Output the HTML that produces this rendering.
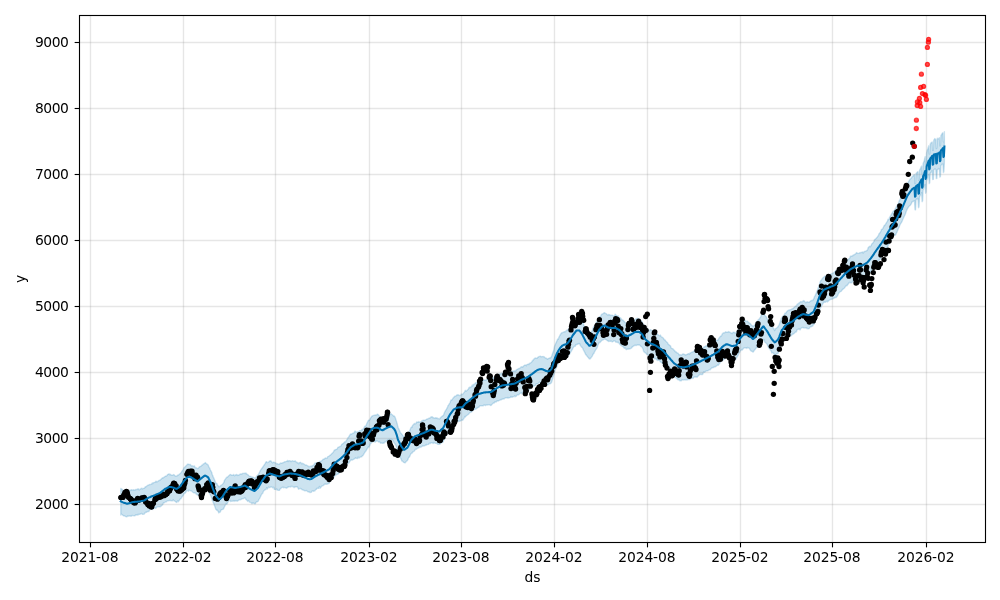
<!DOCTYPE html>
<html lang="en">
<head>
<meta charset="utf-8">
<title>Prophet forecast</title>
<style>
html,body{margin:0;padding:0;background:#fff;}
body{width:1000px;height:600px;overflow:hidden;}
svg{display:block;will-change:transform;}
text{font-family:"DejaVu Sans","Liberation Sans",sans-serif;font-size:13.89px;fill:#000;}
</style>
</head>
<body>
<svg width="1000" height="600" viewBox="0 0 1000 600">
<rect width="1000" height="600" fill="#fff"/>
<clipPath id="ax"><rect x="79.5" y="15.5" width="906.0" height="527.0"/></clipPath>
<g clip-path="url(#ax)">
<path d="M120.8 488.5L121.3 488.7L122.9 489.9L123.4 490.4L123.9 490.4L124.4 490.7L124.9 490.4L126.4 490.4L126.9 491.2L127.4 491.2L127.9 490.6L128.5 490.5L130.0 490.2L130.5 490.5L131.0 489.9L131.5 489.6L132.0 490.2L133.5 489.7L134.0 490.2L134.6 490.0L135.1 490.1L135.6 489.4L137.1 489.5L137.6 488.9L138.1 488.8L138.6 489.1L139.1 489.9L140.6 488.9L141.2 488.4L141.7 488.3L142.2 488.9L142.7 488.5L144.2 488.2L144.7 487.7L145.2 486.7L145.7 487.0L146.2 486.5L147.8 485.2L148.3 485.4L148.8 485.0L149.3 484.6L149.8 484.5L151.3 484.4L151.8 483.6L152.3 482.9L152.8 483.7L153.4 482.7L154.9 482.3L155.4 482.3L155.9 481.1L156.4 481.3L156.9 482.0L158.4 480.9L158.9 480.5L159.4 480.5L160.0 480.0L160.5 479.8L162.0 478.3L162.5 477.7L163.0 478.1L163.5 477.5L164.0 477.3L165.5 476.1L166.1 476.3L166.6 475.9L167.1 475.3L167.6 474.6L169.1 473.8L169.6 474.7L170.1 474.6L170.6 474.3L171.1 475.3L172.7 475.1L173.2 474.9L173.7 474.5L174.2 474.9L174.7 475.6L176.2 476.4L176.7 476.2L177.2 475.2L177.7 475.5L178.2 475.2L179.8 473.8L180.3 473.5L180.8 472.9L181.3 472.5L181.8 471.4L183.3 469.3L183.8 468.0L184.3 467.5L184.9 467.2L185.4 466.4L186.9 464.9L187.4 464.2L187.9 464.3L188.4 464.1L188.9 464.5L190.4 464.4L190.9 465.5L191.5 466.0L192.0 465.6L192.5 465.9L194.0 466.3L194.5 465.9L195.0 467.4L195.5 467.8L196.0 467.7L197.6 468.5L198.1 468.4L198.6 467.9L199.1 467.1L199.6 466.8L201.1 466.1L201.6 465.5L202.1 465.0L202.6 465.0L203.1 464.2L204.7 463.3L205.2 462.5L205.7 463.0L206.2 463.4L206.7 463.9L208.2 465.0L208.7 466.7L209.2 467.4L209.7 467.9L210.3 469.7L211.8 472.6L212.3 474.8L212.8 475.6L213.3 477.3L213.8 477.9L215.3 481.8L215.8 483.5L216.4 483.2L216.9 483.6L217.4 484.8L218.9 486.8L219.4 486.7L219.9 486.5L220.4 485.5L220.9 485.7L222.5 484.2L223.0 483.6L223.5 482.9L224.0 482.1L224.5 480.3L226.0 478.2L226.5 477.4L227.0 477.2L227.5 477.1L228.0 476.5L229.6 475.0L230.1 474.4L230.6 474.6L231.1 474.8L231.6 475.3L233.1 475.3L233.6 474.4L234.1 475.4L234.6 475.7L235.2 475.1L236.7 474.4L237.2 475.4L237.7 475.0L238.2 475.1L238.7 475.3L240.2 474.0L240.7 474.0L241.2 474.0L241.8 474.1L242.3 473.5L243.8 473.4L244.3 473.2L244.8 473.5L245.3 473.5L245.8 472.9L247.3 474.5L247.9 474.7L248.4 475.2L248.9 475.7L249.4 476.1L250.9 476.5L251.4 477.0L251.9 477.2L252.4 477.3L252.9 477.0L254.5 477.9L255.0 477.7L255.5 477.8L256.0 477.6L256.5 476.2L258.0 474.8L258.5 474.3L259.0 473.2L259.5 472.2L260.0 471.2L261.6 468.6L262.1 468.2L262.6 467.0L263.1 467.1L263.6 465.8L265.1 463.6L265.6 462.7L266.1 461.7L266.7 461.8L267.2 462.7L268.7 462.2L269.2 461.1L269.7 461.3L270.2 460.9L270.7 460.8L272.2 462.5L272.8 462.9L273.3 462.1L273.8 462.2L274.3 462.5L275.8 462.9L276.3 463.5L276.8 463.9L277.3 463.6L277.8 464.0L279.4 464.4L279.9 463.4L280.4 463.2L280.9 463.0L281.4 463.3L282.9 462.7L283.4 462.6L283.9 462.3L284.4 461.8L284.9 461.9L286.5 461.3L287.0 461.0L287.5 460.4L288.0 461.5L288.5 460.8L290.0 460.8L290.5 461.0L291.0 461.6L291.5 461.2L292.1 460.7L293.6 461.1L294.1 461.1L294.6 461.2L295.1 460.7L295.6 461.4L297.1 462.7L297.6 462.5L298.2 463.2L298.7 463.8L299.2 462.7L300.7 462.3L301.2 463.0L301.7 463.8L302.2 463.8L302.7 463.2L304.3 464.3L304.8 464.7L305.3 465.0L305.8 465.1L306.3 465.0L307.8 465.9L308.3 466.3L308.8 466.8L309.3 466.4L309.8 466.7L311.4 465.9L311.9 466.4L312.4 465.8L312.9 465.4L313.4 465.4L314.9 463.2L315.4 462.9L315.9 463.4L316.4 462.7L317.0 462.8L318.5 463.1L319.0 461.9L319.5 461.5L320.0 461.3L320.5 461.5L322.0 460.5L322.5 460.0L323.1 459.2L323.6 459.3L324.1 459.1L325.6 457.9L326.1 458.4L326.6 458.3L327.1 458.4L327.6 456.8L329.1 456.0L329.7 455.5L330.2 455.1L330.7 454.8L331.2 454.3L332.7 452.8L333.2 452.2L333.7 451.4L334.2 450.2L334.7 450.0L336.3 449.3L336.8 449.1L337.3 448.7L337.8 447.4L338.3 447.3L339.8 446.5L340.3 446.4L340.8 446.2L341.3 445.2L341.8 444.3L343.4 443.3L343.9 442.8L344.4 442.3L344.9 441.8L345.4 441.9L346.9 439.7L347.4 439.0L347.9 437.7L348.5 437.5L349.0 436.3L350.5 434.0L351.0 434.4L351.5 434.3L352.0 433.6L352.5 433.4L354.0 432.8L354.6 431.7L355.1 431.0L355.6 431.8L356.1 431.9L357.6 432.0L358.1 431.5L358.6 431.9L359.1 431.7L359.6 430.6L361.2 430.7L361.7 429.8L362.2 429.3L362.7 429.7L363.2 429.2L364.7 426.2L365.2 426.2L365.7 425.8L366.2 425.2L366.7 423.7L368.3 420.6L368.8 420.1L369.3 420.3L369.8 419.6L370.3 418.6L371.8 416.2L372.3 416.1L372.8 415.7L373.4 415.4L373.9 415.4L375.4 415.0L375.9 414.9L376.4 415.0L376.9 414.6L377.4 414.1L378.9 415.3L379.4 416.1L380.0 417.0L380.5 416.8L381.0 417.9L382.5 418.3L383.0 417.0L383.5 416.7L384.0 416.9L384.5 417.3L386.1 416.0L386.6 415.6L387.1 414.7L387.6 413.8L388.1 414.5L389.6 414.6L390.1 414.5L390.6 413.9L391.1 413.8L391.6 414.3L393.2 415.5L393.7 416.3L394.2 415.9L394.7 416.5L395.2 417.5L396.7 422.1L397.2 423.8L397.7 426.0L398.2 427.8L398.8 428.9L400.3 432.3L400.8 433.3L401.3 433.4L401.8 434.3L402.3 434.8L403.8 436.8L404.3 437.8L404.9 437.2L405.4 436.3L405.9 435.8L407.4 434.9L407.9 433.6L408.4 432.9L408.9 432.6L409.4 431.4L410.9 427.7L411.5 427.0L412.0 427.3L412.5 425.6L413.0 425.1L414.5 423.5L415.0 423.7L415.5 423.7L416.0 423.5L416.5 422.0L418.1 422.2L418.6 421.6L419.1 422.2L419.6 422.0L420.1 422.4L421.6 421.3L422.1 420.6L422.6 421.0L423.1 420.1L423.7 420.1L425.2 420.1L425.7 419.8L426.2 419.5L426.7 419.1L427.2 419.1L428.7 418.4L429.2 418.0L429.7 418.1L430.3 417.9L430.8 417.0L432.3 416.8L432.8 417.8L433.3 417.5L433.8 417.9L434.3 418.1L435.8 417.8L436.4 418.2L436.9 417.7L437.4 418.6L437.9 418.4L439.4 418.9L439.9 418.6L440.4 417.7L440.9 417.4L441.4 416.7L443.0 415.6L443.5 415.2L444.0 413.8L444.5 412.6L445.0 411.4L446.5 409.1L447.0 408.0L447.5 407.4L448.0 405.6L448.5 405.2L450.1 402.5L450.6 401.0L451.1 399.9L451.6 400.3L452.1 399.6L453.6 397.4L454.1 397.1L454.6 396.3L455.2 396.4L455.7 396.1L457.2 394.8L457.7 395.0L458.2 394.7L458.7 395.2L459.2 395.5L460.7 395.4L461.2 394.0L461.8 394.6L462.3 394.5L462.8 394.2L464.3 392.2L464.8 391.4L465.3 390.3L465.8 391.0L466.3 391.0L467.9 389.6L468.4 389.1L468.9 387.8L469.4 387.3L469.9 387.7L471.4 386.7L471.9 385.8L472.4 384.9L472.9 385.9L473.4 384.5L475.0 383.7L475.5 382.7L476.0 383.0L476.5 382.5L477.0 382.6L478.5 381.8L479.0 380.6L479.5 380.6L480.0 381.1L480.6 381.4L482.1 381.3L482.6 380.5L483.1 380.1L483.6 380.0L484.1 379.9L485.6 380.2L486.1 379.8L486.7 379.5L487.2 378.9L487.7 378.6L489.2 379.4L489.7 379.7L490.2 379.5L490.7 379.7L491.2 379.5L492.7 378.3L493.3 378.2L493.8 377.3L494.3 377.1L494.8 376.7L496.3 375.9L496.8 375.8L497.3 375.6L497.8 375.1L498.3 374.9L499.9 373.8L500.4 373.7L500.9 374.0L501.4 373.3L501.9 373.5L503.4 373.0L503.9 372.9L504.4 373.4L504.9 372.5L505.5 372.2L507.0 372.2L507.5 372.2L508.0 372.2L508.5 372.4L509.0 372.0L510.5 371.8L511.0 371.6L511.5 371.9L512.1 371.3L512.6 371.1L514.1 371.0L514.6 371.0L515.1 370.7L515.6 371.1L516.1 370.1L517.6 369.1L518.2 368.8L518.7 368.5L519.2 368.6L519.7 368.2L521.2 366.9L521.7 366.7L522.2 366.8L522.7 367.2L523.2 366.2L524.8 365.1L525.3 365.0L525.8 365.3L526.3 365.7L526.8 364.6L528.3 364.1L528.8 364.6L529.3 363.3L529.8 363.5L530.3 363.2L531.9 361.7L532.4 360.5L532.9 360.7L533.4 360.0L533.9 359.0L535.4 357.9L535.9 358.3L536.4 358.2L537.0 358.2L537.5 357.6L539.0 356.5L539.5 356.4L540.0 356.4L540.5 356.1L541.0 356.7L542.5 356.6L543.0 356.5L543.6 356.7L544.1 356.8L544.6 357.4L546.1 358.4L546.6 358.3L547.1 359.0L547.6 359.3L548.1 358.5L549.7 358.1L550.2 357.6L550.7 357.9L551.2 357.0L551.7 356.1L553.2 351.8L553.7 350.6L554.2 348.0L554.7 345.8L555.2 344.7L556.8 341.1L557.3 339.8L557.8 338.9L558.3 339.3L558.8 337.5L560.3 334.7L560.8 334.0L561.3 333.1L561.8 332.8L562.4 332.7L563.9 331.9L564.4 331.6L564.9 332.0L565.4 331.7L565.9 331.0L567.4 329.8L567.9 330.0L568.5 329.4L569.0 328.5L569.5 327.4L571.0 325.4L571.5 324.2L572.0 324.3L572.5 323.3L573.0 322.3L574.6 319.9L575.1 319.3L575.6 319.7L576.1 318.8L576.6 317.8L578.1 318.2L578.6 318.4L579.1 317.4L579.6 317.6L580.1 318.5L581.7 320.9L582.2 321.2L582.7 322.6L583.2 323.3L583.7 325.1L585.2 328.2L585.7 328.8L586.2 329.8L586.7 329.9L587.3 330.6L588.8 332.9L589.3 333.1L589.8 333.1L590.3 332.3L590.8 332.5L592.3 330.8L592.8 328.9L593.3 327.4L593.9 326.5L594.4 326.4L595.9 323.3L596.4 321.8L596.9 321.5L597.4 320.9L597.9 319.4L599.4 316.6L600.0 316.6L600.5 316.5L601.0 315.7L601.5 314.3L603.0 313.7L603.5 313.3L604.0 312.9L604.5 312.6L605.0 313.2L606.6 313.9L607.1 314.6L607.6 314.9L608.1 315.2L608.6 314.5L610.1 315.0L610.6 315.5L611.1 315.4L611.6 315.3L612.1 315.1L613.7 316.0L614.2 315.9L614.7 315.3L615.2 314.1L615.7 314.7L617.2 316.0L617.7 315.9L618.2 315.8L618.8 317.0L619.3 317.4L620.8 318.1L621.3 318.9L621.8 319.5L622.3 320.4L622.8 320.0L624.3 321.5L624.9 322.3L625.4 322.8L625.9 324.0L626.4 323.4L627.9 323.4L628.4 322.9L628.9 322.5L629.4 322.8L629.9 323.1L631.5 321.5L632.0 321.5L632.5 321.1L633.0 320.9L633.5 320.6L635.0 320.2L635.5 318.9L636.0 319.0L636.5 318.6L637.0 318.2L638.6 319.1L639.1 320.0L639.6 320.2L640.1 320.5L640.6 320.6L642.1 321.7L642.6 323.4L643.1 323.6L643.6 325.1L644.2 325.4L645.7 326.9L646.2 327.5L646.7 327.9L647.2 328.5L647.7 329.1L649.2 330.7L649.7 330.4L650.3 329.7L650.8 329.8L651.3 330.3L652.8 331.3L653.3 332.0L653.8 331.5L654.3 332.1L654.8 332.5L656.4 333.4L656.9 333.6L657.4 334.1L657.9 334.5L658.4 335.2L659.9 335.8L660.4 335.1L660.9 336.3L661.4 336.9L661.9 336.9L663.5 338.3L664.0 339.6L664.5 339.8L665.0 339.9L665.5 340.6L667.0 342.4L667.5 342.5L668.0 343.9L668.5 344.3L669.1 344.9L670.6 346.1L671.1 348.0L671.6 348.2L672.1 348.6L672.6 348.6L674.1 350.2L674.6 350.4L675.2 351.8L675.7 351.5L676.2 352.1L677.7 353.4L678.2 353.3L678.7 354.3L679.2 355.0L679.7 354.6L681.2 355.1L681.8 354.8L682.3 354.3L682.8 354.2L683.3 353.9L684.8 354.6L685.3 355.1L685.8 354.8L686.3 354.7L686.8 354.6L688.4 353.6L688.9 353.9L689.4 354.2L689.9 353.0L690.4 353.0L691.9 352.2L692.4 352.1L692.9 351.7L693.4 351.6L693.9 351.0L695.5 350.7L696.0 350.5L696.5 350.5L697.0 351.0L697.5 350.3L699.0 349.4L699.5 349.1L700.0 349.3L700.6 347.9L701.1 348.2L702.6 348.2L703.1 348.1L703.6 347.3L704.1 346.9L704.6 346.8L706.1 345.8L706.7 345.7L707.2 345.1L707.7 345.2L708.2 344.7L709.7 343.3L710.2 342.5L710.7 343.7L711.2 343.5L711.7 343.2L713.3 341.7L713.8 342.1L714.3 341.6L714.8 341.1L715.3 341.2L716.8 340.3L717.3 340.0L717.8 340.3L718.3 339.5L718.8 338.4L720.4 336.3L720.9 336.0L721.4 336.0L721.9 334.8L722.4 333.7L723.9 332.7L724.4 332.8L724.9 332.7L725.5 331.8L726.0 332.0L727.5 332.3L728.0 332.2L728.5 331.5L729.0 331.9L729.5 331.9L731.0 333.0L731.5 332.9L732.1 333.6L732.6 333.2L733.1 332.1L734.6 332.5L735.1 333.1L735.6 332.9L736.1 332.5L736.6 331.8L738.2 329.7L738.7 329.3L739.2 327.8L739.7 326.5L740.2 325.4L741.7 323.2L742.2 323.0L742.7 322.6L743.2 322.8L743.7 321.5L745.3 320.3L745.8 320.9L746.3 321.4L746.8 321.5L747.3 321.1L748.8 322.8L749.3 323.0L749.8 323.2L750.3 323.6L750.9 324.5L752.4 325.7L752.9 326.3L753.4 326.2L753.9 325.7L754.4 325.4L755.9 322.9L756.4 321.9L757.0 322.0L757.5 321.0L758.0 320.1L759.5 318.8L760.0 317.8L760.5 317.4L761.0 315.9L761.5 314.6L763.0 312.9L763.6 313.6L764.1 314.1L764.6 315.0L765.1 315.6L766.6 317.3L767.1 318.9L767.6 318.9L768.1 320.0L768.6 320.4L770.2 323.6L770.7 324.9L771.2 325.4L771.7 325.9L772.2 326.7L773.7 328.4L774.2 329.5L774.7 330.6L775.2 329.1L775.7 328.6L777.3 327.5L777.8 327.1L778.3 326.0L778.8 325.3L779.3 324.2L780.8 320.0L781.3 318.3L781.8 317.9L782.4 316.4L782.9 316.4L784.4 314.8L784.9 313.3L785.4 313.2L785.9 313.1L786.4 312.1L787.9 310.5L788.5 310.2L789.0 310.5L789.5 310.0L790.0 309.7L791.5 309.4L792.0 308.8L792.5 308.7L793.0 308.5L793.5 308.1L795.1 306.6L795.6 306.1L796.1 306.0L796.6 305.4L797.1 304.4L798.6 303.4L799.1 302.9L799.6 302.5L800.1 302.4L800.6 301.6L802.2 301.9L802.7 301.3L803.2 301.4L803.7 300.6L804.2 300.9L805.7 302.8L806.2 302.6L806.7 301.9L807.3 301.8L807.8 302.0L809.3 302.2L809.8 301.6L810.3 301.2L810.8 301.0L811.3 300.5L812.8 300.5L813.3 299.2L813.9 298.6L814.4 296.8L814.9 296.1L816.4 292.9L816.9 291.2L817.4 290.2L817.9 288.9L818.4 287.6L820.0 282.6L820.5 281.2L821.0 280.3L821.5 280.0L822.0 279.0L823.5 277.3L824.0 277.0L824.5 276.4L825.0 276.0L825.5 276.4L827.1 275.8L827.6 275.5L828.1 275.2L828.6 275.3L829.1 274.4L830.6 274.2L831.1 273.8L831.6 274.0L832.1 273.4L832.7 273.1L834.2 272.6L834.7 271.6L835.2 271.5L835.7 270.5L836.2 270.3L837.7 269.4L838.2 268.8L838.8 267.9L839.3 267.4L839.8 266.9L841.3 265.5L841.8 265.5L842.3 264.5L842.8 264.5L843.3 263.1L844.8 261.6L845.4 261.1L845.9 260.5L846.4 260.0L846.9 260.3L848.4 259.3L848.9 258.7L849.4 258.6L849.9 257.6L850.4 256.2L852.0 256.0L852.5 255.4L853.0 255.7L853.5 255.0L854.0 254.8L855.5 253.9L856.0 253.3L856.5 252.6L857.0 253.0L857.6 253.2L859.1 253.4L859.6 252.8L860.1 252.9L860.6 252.5L861.1 252.6L862.6 252.0L863.1 253.1L863.6 252.3L864.2 251.4L864.7 251.6L866.2 250.9L866.7 250.5L867.2 250.5L867.7 249.3L868.2 247.6L869.7 246.3L870.3 246.7L870.8 246.1L871.3 245.1L871.8 244.0L873.3 242.4L873.8 241.7L874.3 240.2L874.8 239.4L875.3 239.3L876.9 237.5L877.4 237.0L877.9 236.0L878.4 235.7L878.9 234.0L880.4 232.2L880.9 231.0L881.4 229.6L881.9 229.2L882.4 229.3L884.0 226.1L884.5 225.1L885.0 225.1L885.5 224.4L886.0 223.3L887.5 221.1L888.0 219.3L888.5 219.8L889.1 218.6L889.6 217.3L891.1 214.9L891.6 213.9L892.1 213.1L892.6 212.4L893.1 211.4L894.6 210.3L895.1 208.9L895.7 208.2L896.2 207.1L896.7 206.2L898.2 203.6L898.7 202.5L899.2 200.8L899.7 200.0L900.2 199.2L901.8 195.1L902.3 193.9L902.8 194.2L903.3 192.4L903.8 190.3L905.3 187.3L905.8 186.6L906.3 185.6L906.8 184.6L907.3 183.3L908.9 181.1L909.4 179.9L909.9 179.6L910.4 179.1L910.9 178.6L912.4 176.4L912.9 176.3L913.4 175.6L913.9 174.8L914.5 174.5L915.0 183.6L915.5 183.2L916.0 173.4L916.5 173.1L917.0 172.6L917.5 171.8L918.0 171.9L918.5 180.1L919.0 180.1L919.5 170.4L920.0 169.3L920.6 168.3L921.1 166.9L921.6 166.0L922.1 173.9L922.6 173.6L923.1 163.7L923.6 162.2L924.1 161.3L924.6 158.9L925.1 156.7L925.6 164.9L926.1 164.2L926.6 152.9L927.2 150.2L927.7 149.1L928.2 147.8L928.7 145.8L929.2 154.0L929.7 153.7L930.2 144.1L930.7 143.4L931.2 142.6L931.7 142.4L932.2 141.9L932.7 150.3L933.3 150.1L933.8 140.1L934.3 139.6L934.8 138.6L935.3 139.6L935.8 139.3L936.3 148.6L936.8 148.1L937.3 138.2L937.8 138.7L938.3 138.8L938.8 138.7L939.4 137.7L939.9 145.9L940.4 145.4L940.9 135.7L941.4 134.8L941.9 133.9L942.4 133.1L942.9 132.8L943.4 141.7L943.9 141.7L944.4 131.6L944.4 161.6L943.9 171.5L943.4 172.6L942.9 164.0L942.4 164.5L941.9 164.3L941.4 164.8L940.9 165.9L940.4 176.4L939.9 177.1L939.4 168.8L938.8 168.4L938.3 168.9L937.8 169.4L937.3 169.6L936.8 178.4L936.3 178.5L935.8 169.8L935.3 169.0L934.8 169.0L934.3 169.5L933.8 169.9L933.3 179.4L932.7 179.5L932.2 170.7L931.7 171.3L931.2 172.3L930.7 172.7L930.2 173.6L929.7 182.9L929.2 183.6L928.7 174.8L928.2 176.3L927.7 177.7L927.2 179.2L926.6 181.0L926.1 192.3L925.6 193.3L925.1 184.4L924.6 186.3L924.1 186.5L923.6 188.7L923.1 190.2L922.6 200.8L922.1 201.7L921.6 192.8L921.1 193.8L920.6 194.7L920.0 196.0L919.5 197.4L919.0 206.9L918.5 207.7L918.0 198.2L917.5 199.1L917.0 199.6L916.5 199.0L916.0 199.8L915.5 209.9L915.0 209.7L914.5 200.6L913.9 201.2L913.4 201.3L912.9 201.5L912.4 201.4L910.9 204.5L910.4 205.1L909.9 205.7L909.4 205.9L908.9 206.5L907.3 208.9L906.8 210.3L906.3 211.3L905.8 212.7L905.3 214.2L903.8 217.3L903.3 218.6L902.8 219.2L902.3 220.7L901.8 221.9L900.2 224.5L899.7 225.5L899.2 227.1L898.7 228.0L898.2 229.0L896.7 232.7L896.2 233.5L895.7 234.8L895.1 235.3L894.6 234.9L893.1 236.7L892.6 237.8L892.1 239.0L891.6 239.9L891.1 240.3L889.6 242.8L889.1 244.2L888.5 244.4L888.0 246.2L887.5 246.9L886.0 249.3L885.5 250.0L885.0 251.5L884.5 252.2L884.0 252.2L882.4 255.2L881.9 255.5L881.4 256.2L880.9 257.4L880.4 258.9L878.9 260.6L878.4 260.3L877.9 260.7L877.4 261.6L876.9 263.4L875.3 264.8L874.8 265.4L874.3 266.5L873.8 267.0L873.3 267.1L871.8 269.9L871.3 270.6L870.8 271.8L870.3 271.9L869.7 272.4L868.2 274.5L867.7 274.8L867.2 276.2L866.7 276.8L866.2 277.6L864.7 278.0L864.2 276.9L863.6 278.2L863.1 278.5L862.6 278.7L861.1 279.1L860.6 278.8L860.1 278.6L859.6 279.0L859.1 278.9L857.6 278.4L857.0 279.7L856.5 279.2L856.0 279.4L855.5 279.6L854.0 280.1L853.5 281.0L853.0 281.5L852.5 281.2L852.0 282.7L850.4 282.9L849.9 282.3L849.4 282.6L848.9 283.1L848.4 283.8L846.9 285.7L846.4 285.5L845.9 286.0L845.4 286.4L844.8 287.8L843.3 289.0L842.8 289.2L842.3 289.9L841.8 290.3L841.3 291.2L839.8 292.0L839.3 292.5L838.8 293.1L838.2 294.3L837.7 295.5L836.2 297.6L835.7 297.4L835.2 297.5L834.7 298.0L834.2 297.9L832.7 299.0L832.1 299.3L831.6 299.3L831.1 299.2L830.6 299.5L829.1 300.3L828.6 300.7L828.1 301.3L827.6 301.9L827.1 301.0L825.5 302.2L825.0 302.1L824.5 302.3L824.0 301.9L823.5 302.7L822.0 305.1L821.5 306.0L821.0 307.1L820.5 306.8L820.0 309.1L818.4 313.2L817.9 314.7L817.4 316.1L816.9 317.9L816.4 318.8L814.9 322.2L814.4 323.4L813.9 324.3L813.3 324.7L812.8 325.9L811.3 326.7L810.8 326.7L810.3 327.0L809.8 327.3L809.3 328.5L807.8 328.9L807.3 328.3L806.7 327.8L806.2 328.5L805.7 327.7L804.2 328.1L803.7 327.9L803.2 327.5L802.7 327.4L802.2 327.7L800.6 328.5L800.1 329.9L799.6 329.6L799.1 328.8L798.6 329.3L797.1 329.6L796.6 331.3L796.1 332.1L795.6 331.9L795.1 332.5L793.5 334.0L793.0 333.5L792.5 334.5L792.0 334.7L791.5 335.5L790.0 336.1L789.5 336.5L789.0 336.6L788.5 336.5L787.9 336.5L786.4 337.8L785.9 338.9L785.4 339.5L784.9 339.2L784.4 340.6L782.9 341.8L782.4 342.6L781.8 343.3L781.3 344.5L780.8 346.2L779.3 350.2L778.8 351.2L778.3 353.1L777.8 353.5L777.3 353.5L775.7 354.9L775.2 356.1L774.7 355.7L774.2 354.8L773.7 353.4L772.2 352.4L771.7 352.9L771.2 351.1L770.7 350.6L770.2 349.6L768.6 347.8L768.1 346.4L767.6 345.6L767.1 344.3L766.6 343.5L765.1 342.5L764.6 341.5L764.1 339.8L763.6 339.4L763.0 340.2L761.5 342.4L761.0 342.0L760.5 343.6L760.0 343.1L759.5 343.6L758.0 345.8L757.5 346.8L757.0 347.4L756.4 347.4L755.9 348.6L754.4 350.2L753.9 351.0L753.4 351.9L752.9 352.0L752.4 351.5L750.9 350.9L750.3 350.1L749.8 349.1L749.3 348.2L748.8 348.1L747.3 347.4L746.8 348.4L746.3 347.8L745.8 348.1L745.3 347.6L743.7 348.2L743.2 348.8L742.7 349.4L742.2 350.0L741.7 349.6L740.2 351.2L739.7 352.5L739.2 353.0L738.7 353.8L738.2 355.2L736.6 357.9L736.1 358.8L735.6 359.6L735.1 358.8L734.6 359.0L733.1 359.3L732.6 358.2L732.1 358.8L731.5 359.1L731.0 358.2L729.5 357.8L729.0 358.7L728.5 358.3L728.0 357.2L727.5 357.6L726.0 357.6L725.5 357.8L724.9 358.1L724.4 359.1L723.9 359.3L722.4 360.8L721.9 360.9L721.4 360.5L720.9 360.8L720.4 362.3L718.8 364.6L718.3 365.2L717.8 364.7L717.3 365.4L716.8 365.6L715.3 366.9L714.8 366.8L714.3 366.5L713.8 367.6L713.3 367.4L711.7 368.0L711.2 368.6L710.7 369.1L710.2 369.8L709.7 369.5L708.2 370.5L707.7 370.9L707.2 370.9L706.7 370.8L706.1 371.0L704.6 372.3L704.1 372.2L703.6 371.9L703.1 373.2L702.6 374.6L701.1 374.5L700.6 374.5L700.0 374.2L699.5 374.8L699.0 375.1L697.5 376.7L697.0 377.2L696.5 376.9L696.0 377.0L695.5 376.9L693.9 377.1L693.4 378.0L692.9 378.6L692.4 377.9L691.9 378.2L690.4 378.8L689.9 379.5L689.4 379.6L688.9 379.3L688.4 379.3L686.8 380.1L686.3 379.5L685.8 379.5L685.3 380.1L684.8 379.7L683.3 380.1L682.8 380.0L682.3 379.7L681.8 380.0L681.2 380.9L679.7 380.7L679.2 379.6L678.7 379.2L678.2 379.9L677.7 379.5L676.2 378.0L675.7 377.7L675.2 377.4L674.6 376.2L674.1 376.3L672.6 374.9L672.1 374.2L671.6 373.7L671.1 373.3L670.6 372.1L669.1 370.5L668.5 369.8L668.0 369.7L667.5 368.9L667.0 368.2L665.5 366.0L665.0 366.7L664.5 365.9L664.0 364.7L663.5 364.2L661.9 362.7L661.4 362.5L660.9 362.3L660.4 361.9L659.9 361.0L658.4 360.2L657.9 359.8L657.4 360.4L656.9 360.0L656.4 359.2L654.8 358.3L654.3 358.8L653.8 357.7L653.3 357.9L652.8 357.4L651.3 357.8L650.8 357.1L650.3 357.2L649.7 356.6L649.2 356.0L647.7 354.5L647.2 354.4L646.7 354.6L646.2 353.4L645.7 353.1L644.2 352.1L643.6 351.3L643.1 349.3L642.6 348.3L642.1 347.2L640.6 346.1L640.1 345.5L639.6 345.0L639.1 345.1L638.6 344.9L637.0 345.0L636.5 345.3L636.0 345.6L635.5 345.3L635.0 345.2L633.5 346.1L633.0 346.4L632.5 347.1L632.0 347.0L631.5 348.1L629.9 348.8L629.4 348.8L628.9 349.3L628.4 348.5L627.9 349.0L626.4 349.6L625.9 349.3L625.4 347.9L624.9 348.3L624.3 348.3L622.8 346.4L622.3 346.4L621.8 346.0L621.3 345.0L620.8 345.4L619.3 343.7L618.8 343.0L618.2 342.3L617.7 342.6L617.2 342.3L615.7 342.1L615.2 341.2L614.7 340.8L614.2 340.6L613.7 341.1L612.1 342.0L611.6 341.2L611.1 341.1L610.6 341.4L610.1 341.1L608.6 341.5L608.1 340.7L607.6 340.9L607.1 340.4L606.6 340.0L605.0 339.2L604.5 339.0L604.0 339.3L603.5 339.6L603.0 339.9L601.5 340.5L601.0 341.4L600.5 341.8L600.0 342.5L599.4 342.3L597.9 345.3L597.4 347.1L596.9 348.1L596.4 349.0L595.9 349.5L594.4 352.1L593.9 353.5L593.3 353.9L592.8 354.8L592.3 356.1L590.8 358.1L590.3 358.7L589.8 358.5L589.3 359.0L588.8 358.2L587.3 356.4L586.7 355.7L586.2 354.6L585.7 354.7L585.2 353.3L583.7 350.5L583.2 349.6L582.7 348.3L582.2 347.3L581.7 347.3L580.1 345.1L579.6 343.5L579.1 343.9L578.6 343.4L578.1 344.0L576.6 344.7L576.1 344.5L575.6 345.2L575.1 346.4L574.6 346.1L573.0 347.9L572.5 349.4L572.0 349.7L571.5 351.0L571.0 351.5L569.5 354.5L569.0 354.8L568.5 355.3L567.9 355.7L567.4 357.2L565.9 356.9L565.4 357.5L564.9 357.9L564.4 357.3L563.9 357.4L562.4 358.9L561.8 358.4L561.3 359.8L560.8 360.1L560.3 360.2L558.8 362.4L558.3 363.3L557.8 364.6L557.3 365.5L556.8 367.0L555.2 369.8L554.7 371.5L554.2 373.9L553.7 375.0L553.2 376.8L551.7 382.1L551.2 382.9L550.7 383.5L550.2 383.7L549.7 383.4L548.1 384.8L547.6 385.0L547.1 384.5L546.6 384.4L546.1 383.9L544.6 383.2L544.1 382.7L543.6 383.0L543.0 383.1L542.5 382.2L541.0 382.2L540.5 383.0L540.0 382.6L539.5 382.0L539.0 382.8L537.5 384.0L537.0 383.9L536.4 383.7L535.9 384.4L535.4 385.6L533.9 385.7L533.4 386.4L532.9 385.9L532.4 386.2L531.9 387.0L530.3 388.1L529.8 389.2L529.3 389.6L528.8 390.1L528.3 390.2L526.8 390.1L526.3 390.7L525.8 392.0L525.3 392.0L524.8 391.3L523.2 392.0L522.7 392.1L522.2 392.5L521.7 393.8L521.2 392.9L519.7 393.6L519.2 394.5L518.7 394.6L518.2 395.0L517.6 394.5L516.1 396.2L515.6 396.2L515.1 396.7L514.6 395.8L514.1 396.6L512.6 396.8L512.1 397.4L511.5 397.1L511.0 396.4L510.5 397.4L509.0 397.9L508.5 398.0L508.0 397.4L507.5 398.1L507.0 397.9L505.5 397.8L504.9 398.3L504.4 398.5L503.9 399.1L503.4 398.7L501.9 399.4L501.4 399.7L500.9 399.5L500.4 400.0L499.9 400.1L498.3 401.0L497.8 401.0L497.3 400.7L496.8 401.1L496.3 402.0L494.8 401.9L494.3 403.0L493.8 402.9L493.3 403.2L492.7 403.6L491.2 405.3L490.7 405.5L490.2 405.2L489.7 404.7L489.2 404.6L487.7 404.8L487.2 405.1L486.7 405.1L486.1 404.9L485.6 405.5L484.1 404.8L483.6 405.6L483.1 405.7L482.6 405.9L482.1 405.9L480.6 405.9L480.0 405.8L479.5 406.3L479.0 407.3L478.5 407.2L477.0 408.2L476.5 408.7L476.0 408.2L475.5 409.3L475.0 409.2L473.4 410.0L472.9 410.4L472.4 410.9L471.9 411.6L471.4 412.0L469.9 412.6L469.4 413.0L468.9 414.0L468.4 414.3L467.9 414.7L466.3 415.8L465.8 416.4L465.3 417.1L464.8 416.6L464.3 417.8L462.8 420.1L462.3 420.3L461.8 419.9L461.2 420.7L460.7 420.9L459.2 421.3L458.7 421.0L458.2 421.6L457.7 421.0L457.2 421.2L455.7 421.6L455.2 421.6L454.6 421.9L454.1 422.4L453.6 423.7L452.1 424.7L451.6 425.0L451.1 425.7L450.6 426.8L450.1 427.4L448.5 431.0L448.0 431.5L447.5 432.3L447.0 434.0L446.5 434.8L445.0 437.2L444.5 438.5L444.0 439.3L443.5 440.8L443.0 442.2L441.4 443.0L440.9 443.0L440.4 443.9L439.9 444.2L439.4 444.3L437.9 444.4L437.4 443.9L436.9 443.6L436.4 443.4L435.8 443.4L434.3 442.9L433.8 442.4L433.3 443.6L432.8 443.2L432.3 442.8L430.8 442.8L430.3 443.5L429.7 443.2L429.2 443.4L428.7 444.4L427.2 444.6L426.7 444.4L426.2 445.2L425.7 444.9L425.2 445.5L423.7 446.1L423.1 446.1L422.6 445.7L422.1 446.4L421.6 446.8L420.1 447.3L419.6 446.8L419.1 447.7L418.6 448.1L418.1 448.0L416.5 449.1L416.0 449.4L415.5 449.3L415.0 449.9L414.5 451.0L413.0 451.8L412.5 452.4L412.0 453.2L411.5 453.3L410.9 453.8L409.4 457.1L408.9 457.2L408.4 458.0L407.9 459.7L407.4 460.5L405.9 461.8L405.4 462.6L404.9 462.9L404.3 462.7L403.8 462.4L402.3 461.0L401.8 461.0L401.3 459.4L400.8 458.4L400.3 457.5L398.8 454.6L398.2 454.0L397.7 452.5L397.2 449.9L396.7 447.6L395.2 444.1L394.7 443.8L394.2 442.6L393.7 442.3L393.2 440.8L391.6 439.2L391.1 440.1L390.6 439.5L390.1 439.3L389.6 439.7L388.1 439.4L387.6 440.6L387.1 441.2L386.6 440.8L386.1 441.8L384.5 442.2L384.0 443.3L383.5 442.9L383.0 443.2L382.5 443.3L381.0 442.9L380.5 443.2L380.0 442.3L379.4 441.5L378.9 442.1L377.4 441.0L376.9 441.1L376.4 441.2L375.9 440.4L375.4 442.1L373.9 441.6L373.4 440.8L372.8 441.8L372.3 442.2L371.8 442.2L370.3 444.1L369.8 445.4L369.3 446.5L368.8 447.4L368.3 446.8L366.7 449.7L366.2 450.6L365.7 451.2L365.2 451.8L364.7 452.6L363.2 455.1L362.7 455.9L362.2 455.9L361.7 456.8L361.2 456.9L359.6 457.3L359.1 458.0L358.6 457.8L358.1 457.1L357.6 458.5L356.1 458.2L355.6 457.8L355.1 458.5L354.6 458.5L354.0 459.2L352.5 459.8L352.0 460.3L351.5 459.5L351.0 460.0L350.5 460.4L349.0 462.8L348.5 463.0L347.9 463.6L347.4 464.0L346.9 464.7L345.4 466.6L344.9 467.4L344.4 468.1L343.9 469.2L343.4 470.4L341.8 471.2L341.3 471.1L340.8 471.6L340.3 471.6L339.8 472.2L338.3 473.9L337.8 474.3L337.3 474.2L336.8 474.4L336.3 474.8L334.7 475.8L334.2 476.8L333.7 477.6L333.2 477.7L332.7 479.0L331.2 479.7L330.7 479.9L330.2 481.3L329.7 481.9L329.1 483.5L327.6 483.7L327.1 484.2L326.6 484.1L326.1 484.3L325.6 484.0L324.1 484.5L323.6 485.3L323.1 485.6L322.5 485.9L322.0 485.9L320.5 487.7L320.0 488.2L319.5 486.4L319.0 487.3L318.5 488.4L317.0 488.2L316.4 489.4L315.9 489.3L315.4 490.0L314.9 490.8L313.4 491.3L312.9 490.8L312.4 491.0L311.9 491.2L311.4 492.3L309.8 492.5L309.3 492.0L308.8 492.1L308.3 491.6L307.8 491.7L306.3 490.5L305.8 490.7L305.3 490.6L304.8 490.8L304.3 490.5L302.7 489.8L302.2 489.7L301.7 489.1L301.2 489.2L300.7 488.5L299.2 488.6L298.7 489.3L298.2 488.6L297.6 487.2L297.1 486.9L295.6 486.7L295.1 487.1L294.6 486.9L294.1 487.7L293.6 487.1L292.1 486.3L291.5 486.5L291.0 486.3L290.5 487.0L290.0 486.6L288.5 486.7L288.0 487.5L287.5 487.3L287.0 487.9L286.5 488.2L284.9 487.6L284.4 487.5L283.9 487.3L283.4 487.8L282.9 487.2L281.4 487.6L280.9 488.6L280.4 488.6L279.9 489.4L279.4 490.4L277.8 490.3L277.3 489.9L276.8 488.9L276.3 489.7L275.8 489.4L274.3 489.4L273.8 487.2L273.3 487.5L272.8 487.9L272.2 487.1L270.7 487.0L270.2 487.3L269.7 487.5L269.2 487.5L268.7 487.1L267.2 489.0L266.7 487.7L266.1 489.2L265.6 489.6L265.1 489.7L263.6 491.0L263.1 492.3L262.6 493.5L262.1 493.8L261.6 494.2L260.0 497.8L259.5 498.8L259.0 499.2L258.5 500.5L258.0 501.4L256.5 502.0L256.0 502.3L255.5 503.4L255.0 503.9L254.5 503.5L252.9 502.9L252.4 503.2L251.9 503.8L251.4 502.8L250.9 502.6L249.4 502.1L248.9 501.1L248.4 500.5L247.9 501.5L247.3 500.7L245.8 499.3L245.3 498.1L244.8 497.9L244.3 497.9L243.8 498.6L242.3 498.8L241.8 498.9L241.2 499.4L240.7 499.8L240.2 499.5L238.7 500.1L238.2 500.7L237.7 500.9L237.2 501.2L236.7 501.0L235.2 501.0L234.6 500.7L234.1 501.4L233.6 500.6L233.1 501.1L231.6 501.2L231.1 501.1L230.6 501.6L230.1 500.7L229.6 500.0L228.0 501.9L227.5 502.8L227.0 504.1L226.5 504.3L226.0 503.7L224.5 506.7L224.0 507.8L223.5 509.0L223.0 509.3L222.5 509.4L220.9 510.2L220.4 511.7L219.9 512.3L219.4 512.3L218.9 512.9L217.4 510.2L216.9 510.4L216.4 509.7L215.8 509.2L215.3 507.7L213.8 503.7L213.3 502.8L212.8 501.0L212.3 500.6L211.8 498.6L210.3 494.5L209.7 493.7L209.2 492.7L208.7 491.6L208.2 490.7L206.7 490.1L206.2 490.2L205.7 489.5L205.2 489.3L204.7 488.8L203.1 490.6L202.6 489.9L202.1 490.1L201.6 490.5L201.1 491.7L199.6 493.7L199.1 494.0L198.6 494.2L198.1 494.9L197.6 495.1L196.0 493.9L195.5 493.1L195.0 492.8L194.5 492.9L194.0 493.0L192.5 492.0L192.0 491.5L191.5 490.8L190.9 490.6L190.4 490.8L188.9 490.0L188.4 491.3L187.9 490.6L187.4 490.6L186.9 490.6L185.4 492.9L184.9 493.3L184.3 493.4L183.8 494.2L183.3 495.4L181.8 497.0L181.3 498.1L180.8 498.7L180.3 498.8L179.8 499.7L178.2 501.7L177.7 500.9L177.2 501.5L176.7 502.5L176.2 502.2L174.7 501.0L174.2 500.9L173.7 500.5L173.2 499.7L172.7 500.7L171.1 500.9L170.6 500.7L170.1 500.3L169.6 500.4L169.1 500.8L167.6 500.6L167.1 501.0L166.6 501.8L166.1 501.6L165.5 502.0L164.0 502.8L163.5 502.8L163.0 504.1L162.5 504.9L162.0 505.3L160.5 506.6L160.0 506.9L159.4 506.8L158.9 506.8L158.4 506.6L156.9 507.1L156.4 507.5L155.9 508.4L155.4 508.3L154.9 507.7L153.4 509.0L152.8 509.6L152.3 508.8L151.8 508.7L151.3 509.1L149.8 509.6L149.3 510.6L148.8 511.6L148.3 511.5L147.8 511.4L146.2 512.4L145.7 512.3L145.2 512.8L144.7 513.3L144.2 514.1L142.7 514.4L142.2 514.1L141.7 513.6L141.2 513.4L140.6 514.0L139.1 514.4L138.6 514.7L138.1 514.3L137.6 515.1L137.1 514.8L135.6 515.0L135.1 515.7L134.6 515.8L134.0 515.8L133.5 515.6L132.0 515.4L131.5 516.1L131.0 516.2L130.5 516.1L130.0 515.8L128.5 516.1L127.9 516.4L127.4 516.0L126.9 516.8L126.4 516.8L124.9 516.2L124.4 515.8L123.9 515.8L123.4 515.9L122.9 515.3L121.3 513.9L120.8 515.1Z" fill="#0072B2" fill-opacity="0.2" stroke="#0072B2" stroke-opacity="0.2" stroke-width="1.39" stroke-linejoin="round"/>
<g stroke="#808080" stroke-opacity="0.2" stroke-width="1.39" fill="none"><path d="M90.50 15.5V542.5"/><path d="M183.50 15.5V542.5"/><path d="M275.50 15.5V542.5"/><path d="M369.50 15.5V542.5"/><path d="M461.50 15.5V542.5"/><path d="M554.50 15.5V542.5"/><path d="M647.50 15.5V542.5"/><path d="M740.50 15.5V542.5"/><path d="M832.50 15.5V542.5"/><path d="M926.50 15.5V542.5"/><path d="M79.5 504.50H985.5"/><path d="M79.5 438.50H985.5"/><path d="M79.5 372.50H985.5"/><path d="M79.5 306.50H985.5"/><path d="M79.5 240.50H985.5"/><path d="M79.5 174.50H985.5"/><path d="M79.5 108.50H985.5"/><path d="M79.5 42.50H985.5"/></g>
<g fill="#000"><circle cx="120.8" cy="497.6" r="2.65"/><circle cx="121.3" cy="497.5" r="2.65"/><circle cx="122.9" cy="497.4" r="2.65"/><circle cx="123.4" cy="496.3" r="2.65"/><circle cx="123.9" cy="494.9" r="2.65"/><circle cx="124.4" cy="494.4" r="2.65"/><circle cx="124.9" cy="492.4" r="2.65"/><circle cx="126.4" cy="491.5" r="2.65"/><circle cx="126.9" cy="492.0" r="2.65"/><circle cx="127.4" cy="493.4" r="2.65"/><circle cx="127.9" cy="495.5" r="2.65"/><circle cx="128.5" cy="497.3" r="2.65"/><circle cx="130.0" cy="498.3" r="2.65"/><circle cx="130.5" cy="498.9" r="2.65"/><circle cx="131.0" cy="499.1" r="2.65"/><circle cx="131.5" cy="500.1" r="2.65"/><circle cx="132.0" cy="501.5" r="2.65"/><circle cx="133.5" cy="501.8" r="2.65"/><circle cx="134.0" cy="502.8" r="2.65"/><circle cx="134.6" cy="500.9" r="2.65"/><circle cx="135.1" cy="502.9" r="2.65"/><circle cx="135.6" cy="501.8" r="2.65"/><circle cx="137.1" cy="500.1" r="2.65"/><circle cx="137.6" cy="498.5" r="2.65"/><circle cx="138.1" cy="500.0" r="2.65"/><circle cx="138.6" cy="499.8" r="2.65"/><circle cx="139.1" cy="500.0" r="2.65"/><circle cx="140.6" cy="499.2" r="2.65"/><circle cx="141.2" cy="499.4" r="2.65"/><circle cx="141.7" cy="498.0" r="2.65"/><circle cx="142.2" cy="498.8" r="2.65"/><circle cx="142.7" cy="498.1" r="2.65"/><circle cx="144.2" cy="497.3" r="2.65"/><circle cx="144.7" cy="498.6" r="2.65"/><circle cx="145.2" cy="499.6" r="2.65"/><circle cx="145.7" cy="502.1" r="2.65"/><circle cx="146.2" cy="502.1" r="2.65"/><circle cx="147.8" cy="504.5" r="2.65"/><circle cx="148.3" cy="504.3" r="2.65"/><circle cx="148.8" cy="503.4" r="2.65"/><circle cx="149.3" cy="505.9" r="2.65"/><circle cx="149.8" cy="504.4" r="2.65"/><circle cx="151.3" cy="507.0" r="2.65"/><circle cx="151.8" cy="506.6" r="2.65"/><circle cx="152.3" cy="503.8" r="2.65"/><circle cx="152.8" cy="503.4" r="2.65"/><circle cx="153.4" cy="503.2" r="2.65"/><circle cx="154.9" cy="499.8" r="2.65"/><circle cx="155.4" cy="498.1" r="2.65"/><circle cx="155.9" cy="498.9" r="2.65"/><circle cx="156.4" cy="497.7" r="2.65"/><circle cx="156.9" cy="498.1" r="2.65"/><circle cx="158.4" cy="496.8" r="2.65"/><circle cx="158.9" cy="497.3" r="2.65"/><circle cx="159.4" cy="496.1" r="2.65"/><circle cx="160.0" cy="496.5" r="2.65"/><circle cx="160.5" cy="497.1" r="2.65"/><circle cx="162.0" cy="496.0" r="2.65"/><circle cx="162.5" cy="495.2" r="2.65"/><circle cx="163.0" cy="494.2" r="2.65"/><circle cx="163.5" cy="495.4" r="2.65"/><circle cx="164.0" cy="495.7" r="2.65"/><circle cx="165.5" cy="494.8" r="2.65"/><circle cx="166.1" cy="494.0" r="2.65"/><circle cx="166.6" cy="493.8" r="2.65"/><circle cx="167.1" cy="493.5" r="2.65"/><circle cx="167.6" cy="491.7" r="2.65"/><circle cx="169.1" cy="491.0" r="2.65"/><circle cx="169.6" cy="490.7" r="2.65"/><circle cx="170.1" cy="488.2" r="2.65"/><circle cx="170.6" cy="488.6" r="2.65"/><circle cx="171.1" cy="487.1" r="2.65"/><circle cx="172.7" cy="486.6" r="2.65"/><circle cx="173.2" cy="484.3" r="2.65"/><circle cx="173.7" cy="483.2" r="2.65"/><circle cx="174.2" cy="483.4" r="2.65"/><circle cx="174.7" cy="483.6" r="2.65"/><circle cx="176.2" cy="485.9" r="2.65"/><circle cx="176.7" cy="489.0" r="2.65"/><circle cx="177.2" cy="488.9" r="2.65"/><circle cx="177.7" cy="489.8" r="2.65"/><circle cx="178.2" cy="490.9" r="2.65"/><circle cx="179.8" cy="491.2" r="2.65"/><circle cx="180.3" cy="490.5" r="2.65"/><circle cx="180.8" cy="489.4" r="2.65"/><circle cx="181.3" cy="490.0" r="2.65"/><circle cx="181.8" cy="489.5" r="2.65"/><circle cx="183.3" cy="488.3" r="2.65"/><circle cx="183.8" cy="487.8" r="2.65"/><circle cx="184.3" cy="484.7" r="2.65"/><circle cx="184.9" cy="482.9" r="2.65"/><circle cx="185.4" cy="480.3" r="2.65"/><circle cx="186.9" cy="474.3" r="2.65"/><circle cx="187.4" cy="474.0" r="2.65"/><circle cx="187.9" cy="472.5" r="2.65"/><circle cx="188.4" cy="471.5" r="2.65"/><circle cx="188.9" cy="471.8" r="2.65"/><circle cx="190.4" cy="471.2" r="2.65"/><circle cx="190.9" cy="472.7" r="2.65"/><circle cx="191.5" cy="473.0" r="2.65"/><circle cx="192.0" cy="471.2" r="2.65"/><circle cx="192.5" cy="474.2" r="2.65"/><circle cx="194.0" cy="476.8" r="2.65"/><circle cx="194.5" cy="476.6" r="2.65"/><circle cx="195.0" cy="478.7" r="2.65"/><circle cx="195.5" cy="478.3" r="2.65"/><circle cx="196.0" cy="475.1" r="2.65"/><circle cx="197.6" cy="477.2" r="2.65"/><circle cx="198.1" cy="485.9" r="2.65"/><circle cx="198.6" cy="487.5" r="2.65"/><circle cx="199.1" cy="489.8" r="2.65"/><circle cx="199.6" cy="489.7" r="2.65"/><circle cx="201.1" cy="495.3" r="2.65"/><circle cx="201.6" cy="496.1" r="2.65"/><circle cx="202.1" cy="494.2" r="2.65"/><circle cx="202.6" cy="493.1" r="2.65"/><circle cx="203.1" cy="490.3" r="2.65"/><circle cx="204.7" cy="488.6" r="2.65"/><circle cx="205.2" cy="489.8" r="2.65"/><circle cx="205.7" cy="488.6" r="2.65"/><circle cx="206.2" cy="487.9" r="2.65"/><circle cx="206.7" cy="484.7" r="2.65"/><circle cx="208.2" cy="482.8" r="2.65"/><circle cx="208.7" cy="484.3" r="2.65"/><circle cx="209.2" cy="486.2" r="2.65"/><circle cx="209.7" cy="486.7" r="2.65"/><circle cx="210.3" cy="490.2" r="2.65"/><circle cx="211.8" cy="485.3" r="2.65"/><circle cx="212.3" cy="484.6" r="2.65"/><circle cx="212.8" cy="487.3" r="2.65"/><circle cx="213.3" cy="490.8" r="2.65"/><circle cx="213.8" cy="491.8" r="2.65"/><circle cx="215.3" cy="498.4" r="2.65"/><circle cx="215.8" cy="498.2" r="2.65"/><circle cx="216.4" cy="498.2" r="2.65"/><circle cx="216.9" cy="498.3" r="2.65"/><circle cx="217.4" cy="499.2" r="2.65"/><circle cx="218.9" cy="497.5" r="2.65"/><circle cx="219.4" cy="496.0" r="2.65"/><circle cx="219.9" cy="493.9" r="2.65"/><circle cx="220.4" cy="493.8" r="2.65"/><circle cx="220.9" cy="492.7" r="2.65"/><circle cx="222.5" cy="492.8" r="2.65"/><circle cx="223.0" cy="491.2" r="2.65"/><circle cx="223.5" cy="490.4" r="2.65"/><circle cx="224.0" cy="494.1" r="2.65"/><circle cx="224.5" cy="494.3" r="2.65"/><circle cx="226.0" cy="496.5" r="2.65"/><circle cx="226.5" cy="498.5" r="2.65"/><circle cx="227.0" cy="495.9" r="2.65"/><circle cx="227.5" cy="496.5" r="2.65"/><circle cx="228.0" cy="495.0" r="2.65"/><circle cx="229.6" cy="490.1" r="2.65"/><circle cx="230.1" cy="491.4" r="2.65"/><circle cx="230.6" cy="490.9" r="2.65"/><circle cx="231.1" cy="493.1" r="2.65"/><circle cx="231.6" cy="490.9" r="2.65"/><circle cx="233.1" cy="491.3" r="2.65"/><circle cx="233.6" cy="492.9" r="2.65"/><circle cx="234.1" cy="492.0" r="2.65"/><circle cx="234.6" cy="487.7" r="2.65"/><circle cx="235.2" cy="485.9" r="2.65"/><circle cx="236.7" cy="489.7" r="2.65"/><circle cx="237.2" cy="491.7" r="2.65"/><circle cx="237.7" cy="488.8" r="2.65"/><circle cx="238.2" cy="491.6" r="2.65"/><circle cx="238.7" cy="490.4" r="2.65"/><circle cx="240.2" cy="492.1" r="2.65"/><circle cx="240.7" cy="491.2" r="2.65"/><circle cx="241.2" cy="490.0" r="2.65"/><circle cx="241.8" cy="491.0" r="2.65"/><circle cx="242.3" cy="490.0" r="2.65"/><circle cx="243.8" cy="487.1" r="2.65"/><circle cx="244.3" cy="487.9" r="2.65"/><circle cx="244.8" cy="486.2" r="2.65"/><circle cx="245.3" cy="484.6" r="2.65"/><circle cx="245.8" cy="487.3" r="2.65"/><circle cx="247.3" cy="484.1" r="2.65"/><circle cx="247.9" cy="482.9" r="2.65"/><circle cx="248.4" cy="483.6" r="2.65"/><circle cx="248.9" cy="481.4" r="2.65"/><circle cx="249.4" cy="481.2" r="2.65"/><circle cx="250.9" cy="481.2" r="2.65"/><circle cx="251.4" cy="481.0" r="2.65"/><circle cx="251.9" cy="481.5" r="2.65"/><circle cx="252.4" cy="483.9" r="2.65"/><circle cx="252.9" cy="483.4" r="2.65"/><circle cx="254.5" cy="487.9" r="2.65"/><circle cx="255.0" cy="487.2" r="2.65"/><circle cx="255.5" cy="484.1" r="2.65"/><circle cx="256.0" cy="484.3" r="2.65"/><circle cx="256.5" cy="481.9" r="2.65"/><circle cx="258.0" cy="482.4" r="2.65"/><circle cx="258.5" cy="481.4" r="2.65"/><circle cx="259.0" cy="480.2" r="2.65"/><circle cx="259.5" cy="477.9" r="2.65"/><circle cx="260.0" cy="478.9" r="2.65"/><circle cx="261.6" cy="477.6" r="2.65"/><circle cx="262.1" cy="479.2" r="2.65"/><circle cx="262.6" cy="478.3" r="2.65"/><circle cx="263.1" cy="477.2" r="2.65"/><circle cx="263.6" cy="479.1" r="2.65"/><circle cx="265.1" cy="479.8" r="2.65"/><circle cx="265.6" cy="478.5" r="2.65"/><circle cx="266.1" cy="480.8" r="2.65"/><circle cx="266.7" cy="479.6" r="2.65"/><circle cx="267.2" cy="479.0" r="2.65"/><circle cx="268.7" cy="473.4" r="2.65"/><circle cx="269.2" cy="470.9" r="2.65"/><circle cx="269.7" cy="470.9" r="2.65"/><circle cx="270.2" cy="470.9" r="2.65"/><circle cx="270.7" cy="472.7" r="2.65"/><circle cx="272.2" cy="471.8" r="2.65"/><circle cx="272.8" cy="469.7" r="2.65"/><circle cx="273.3" cy="471.3" r="2.65"/><circle cx="273.8" cy="469.9" r="2.65"/><circle cx="274.3" cy="470.2" r="2.65"/><circle cx="275.8" cy="471.2" r="2.65"/><circle cx="276.3" cy="471.1" r="2.65"/><circle cx="276.8" cy="473.1" r="2.65"/><circle cx="277.3" cy="473.0" r="2.65"/><circle cx="277.8" cy="471.6" r="2.65"/><circle cx="279.4" cy="477.3" r="2.65"/><circle cx="279.9" cy="476.7" r="2.65"/><circle cx="280.4" cy="477.8" r="2.65"/><circle cx="280.9" cy="476.4" r="2.65"/><circle cx="281.4" cy="478.3" r="2.65"/><circle cx="282.9" cy="477.2" r="2.65"/><circle cx="283.4" cy="476.7" r="2.65"/><circle cx="283.9" cy="476.5" r="2.65"/><circle cx="284.4" cy="476.5" r="2.65"/><circle cx="284.9" cy="474.7" r="2.65"/><circle cx="286.5" cy="474.8" r="2.65"/><circle cx="287.0" cy="472.5" r="2.65"/><circle cx="287.5" cy="472.3" r="2.65"/><circle cx="288.0" cy="473.9" r="2.65"/><circle cx="288.5" cy="473.0" r="2.65"/><circle cx="290.0" cy="471.4" r="2.65"/><circle cx="290.5" cy="473.8" r="2.65"/><circle cx="291.0" cy="473.8" r="2.65"/><circle cx="291.5" cy="473.5" r="2.65"/><circle cx="292.1" cy="475.4" r="2.65"/><circle cx="293.6" cy="476.1" r="2.65"/><circle cx="294.1" cy="475.4" r="2.65"/><circle cx="294.6" cy="475.7" r="2.65"/><circle cx="295.1" cy="478.4" r="2.65"/><circle cx="295.6" cy="474.3" r="2.65"/><circle cx="297.1" cy="473.9" r="2.65"/><circle cx="297.6" cy="474.3" r="2.65"/><circle cx="298.2" cy="474.2" r="2.65"/><circle cx="298.7" cy="471.5" r="2.65"/><circle cx="299.2" cy="471.9" r="2.65"/><circle cx="300.7" cy="472.5" r="2.65"/><circle cx="301.2" cy="473.8" r="2.65"/><circle cx="301.7" cy="472.5" r="2.65"/><circle cx="302.2" cy="471.9" r="2.65"/><circle cx="302.7" cy="474.9" r="2.65"/><circle cx="304.3" cy="475.6" r="2.65"/><circle cx="304.8" cy="474.7" r="2.65"/><circle cx="305.3" cy="473.2" r="2.65"/><circle cx="305.8" cy="474.1" r="2.65"/><circle cx="306.3" cy="473.7" r="2.65"/><circle cx="307.8" cy="474.1" r="2.65"/><circle cx="308.3" cy="472.1" r="2.65"/><circle cx="308.8" cy="473.9" r="2.65"/><circle cx="309.3" cy="474.3" r="2.65"/><circle cx="309.8" cy="473.5" r="2.65"/><circle cx="311.4" cy="475.0" r="2.65"/><circle cx="311.9" cy="474.4" r="2.65"/><circle cx="312.4" cy="473.2" r="2.65"/><circle cx="312.9" cy="473.6" r="2.65"/><circle cx="313.4" cy="470.9" r="2.65"/><circle cx="314.9" cy="471.1" r="2.65"/><circle cx="315.4" cy="471.5" r="2.65"/><circle cx="315.9" cy="470.8" r="2.65"/><circle cx="316.4" cy="471.1" r="2.65"/><circle cx="317.0" cy="467.5" r="2.65"/><circle cx="318.5" cy="464.6" r="2.65"/><circle cx="319.0" cy="465.5" r="2.65"/><circle cx="319.5" cy="466.7" r="2.65"/><circle cx="320.0" cy="469.4" r="2.65"/><circle cx="320.5" cy="470.2" r="2.65"/><circle cx="322.0" cy="470.7" r="2.65"/><circle cx="322.5" cy="472.9" r="2.65"/><circle cx="323.1" cy="471.4" r="2.65"/><circle cx="323.6" cy="470.9" r="2.65"/><circle cx="324.1" cy="474.8" r="2.65"/><circle cx="325.6" cy="474.9" r="2.65"/><circle cx="326.1" cy="475.4" r="2.65"/><circle cx="326.6" cy="475.8" r="2.65"/><circle cx="327.1" cy="477.3" r="2.65"/><circle cx="327.6" cy="476.9" r="2.65"/><circle cx="329.1" cy="479.6" r="2.65"/><circle cx="329.7" cy="476.4" r="2.65"/><circle cx="330.2" cy="475.2" r="2.65"/><circle cx="330.7" cy="477.8" r="2.65"/><circle cx="331.2" cy="477.4" r="2.65"/><circle cx="332.7" cy="473.4" r="2.65"/><circle cx="333.2" cy="470.4" r="2.65"/><circle cx="333.7" cy="467.7" r="2.65"/><circle cx="334.2" cy="464.2" r="2.65"/><circle cx="334.7" cy="465.0" r="2.65"/><circle cx="336.3" cy="465.8" r="2.65"/><circle cx="336.8" cy="466.4" r="2.65"/><circle cx="337.3" cy="467.0" r="2.65"/><circle cx="337.8" cy="468.8" r="2.65"/><circle cx="338.3" cy="469.1" r="2.65"/><circle cx="339.8" cy="470.1" r="2.65"/><circle cx="340.3" cy="467.3" r="2.65"/><circle cx="340.8" cy="468.8" r="2.65"/><circle cx="341.3" cy="469.8" r="2.65"/><circle cx="341.8" cy="467.5" r="2.65"/><circle cx="343.4" cy="465.9" r="2.65"/><circle cx="343.9" cy="466.6" r="2.65"/><circle cx="344.4" cy="466.2" r="2.65"/><circle cx="344.9" cy="465.1" r="2.65"/><circle cx="345.4" cy="461.5" r="2.65"/><circle cx="346.9" cy="457.5" r="2.65"/><circle cx="347.4" cy="452.3" r="2.65"/><circle cx="347.9" cy="449.7" r="2.65"/><circle cx="348.5" cy="449.0" r="2.65"/><circle cx="349.0" cy="445.7" r="2.65"/><circle cx="350.5" cy="447.2" r="2.65"/><circle cx="351.0" cy="448.1" r="2.65"/><circle cx="351.5" cy="447.6" r="2.65"/><circle cx="352.0" cy="446.8" r="2.65"/><circle cx="352.5" cy="444.0" r="2.65"/><circle cx="354.0" cy="446.1" r="2.65"/><circle cx="354.6" cy="447.0" r="2.65"/><circle cx="355.1" cy="447.8" r="2.65"/><circle cx="355.6" cy="447.0" r="2.65"/><circle cx="356.1" cy="447.4" r="2.65"/><circle cx="357.6" cy="447.8" r="2.65"/><circle cx="358.1" cy="446.6" r="2.65"/><circle cx="358.6" cy="441.1" r="2.65"/><circle cx="359.1" cy="436.2" r="2.65"/><circle cx="359.6" cy="435.6" r="2.65"/><circle cx="361.2" cy="440.8" r="2.65"/><circle cx="361.7" cy="442.7" r="2.65"/><circle cx="362.2" cy="443.4" r="2.65"/><circle cx="362.7" cy="441.9" r="2.65"/><circle cx="363.2" cy="443.1" r="2.65"/><circle cx="364.7" cy="433.9" r="2.65"/><circle cx="365.2" cy="436.2" r="2.65"/><circle cx="365.7" cy="435.5" r="2.65"/><circle cx="366.2" cy="432.7" r="2.65"/><circle cx="366.7" cy="430.2" r="2.65"/><circle cx="368.3" cy="431.6" r="2.65"/><circle cx="368.8" cy="430.4" r="2.65"/><circle cx="369.3" cy="432.4" r="2.65"/><circle cx="369.8" cy="436.4" r="2.65"/><circle cx="370.3" cy="437.1" r="2.65"/><circle cx="371.8" cy="438.9" r="2.65"/><circle cx="372.3" cy="439.2" r="2.65"/><circle cx="372.8" cy="434.6" r="2.65"/><circle cx="373.4" cy="435.0" r="2.65"/><circle cx="373.9" cy="433.0" r="2.65"/><circle cx="375.4" cy="429.2" r="2.65"/><circle cx="375.9" cy="430.1" r="2.65"/><circle cx="376.4" cy="427.0" r="2.65"/><circle cx="376.9" cy="429.7" r="2.65"/><circle cx="377.4" cy="425.8" r="2.65"/><circle cx="378.9" cy="425.3" r="2.65"/><circle cx="379.4" cy="420.6" r="2.65"/><circle cx="380.0" cy="422.6" r="2.65"/><circle cx="380.5" cy="419.8" r="2.65"/><circle cx="381.0" cy="419.2" r="2.65"/><circle cx="382.5" cy="420.9" r="2.65"/><circle cx="383.0" cy="421.9" r="2.65"/><circle cx="383.5" cy="418.7" r="2.65"/><circle cx="384.0" cy="422.1" r="2.65"/><circle cx="384.5" cy="419.1" r="2.65"/><circle cx="386.1" cy="419.3" r="2.65"/><circle cx="386.6" cy="417.2" r="2.65"/><circle cx="387.1" cy="415.0" r="2.65"/><circle cx="387.6" cy="412.4" r="2.65"/><circle cx="388.1" cy="424.7" r="2.65"/><circle cx="389.6" cy="442.4" r="2.65"/><circle cx="390.1" cy="444.9" r="2.65"/><circle cx="390.6" cy="445.7" r="2.65"/><circle cx="391.1" cy="446.8" r="2.65"/><circle cx="391.6" cy="447.8" r="2.65"/><circle cx="393.2" cy="451.9" r="2.65"/><circle cx="393.7" cy="451.5" r="2.65"/><circle cx="394.2" cy="450.8" r="2.65"/><circle cx="394.7" cy="451.4" r="2.65"/><circle cx="395.2" cy="454.2" r="2.65"/><circle cx="396.7" cy="452.5" r="2.65"/><circle cx="397.2" cy="452.5" r="2.65"/><circle cx="397.7" cy="455.3" r="2.65"/><circle cx="398.2" cy="453.7" r="2.65"/><circle cx="398.8" cy="452.2" r="2.65"/><circle cx="400.3" cy="449.2" r="2.65"/><circle cx="400.8" cy="447.4" r="2.65"/><circle cx="401.3" cy="446.8" r="2.65"/><circle cx="401.8" cy="446.8" r="2.65"/><circle cx="402.3" cy="446.3" r="2.65"/><circle cx="403.8" cy="444.2" r="2.65"/><circle cx="404.3" cy="443.8" r="2.65"/><circle cx="404.9" cy="442.6" r="2.65"/><circle cx="405.4" cy="441.7" r="2.65"/><circle cx="405.9" cy="439.0" r="2.65"/><circle cx="407.4" cy="435.1" r="2.65"/><circle cx="407.9" cy="434.3" r="2.65"/><circle cx="408.4" cy="434.3" r="2.65"/><circle cx="408.9" cy="436.4" r="2.65"/><circle cx="409.4" cy="438.8" r="2.65"/><circle cx="410.9" cy="439.0" r="2.65"/><circle cx="411.5" cy="438.8" r="2.65"/><circle cx="412.0" cy="440.2" r="2.65"/><circle cx="412.5" cy="440.6" r="2.65"/><circle cx="413.0" cy="439.3" r="2.65"/><circle cx="414.5" cy="441.0" r="2.65"/><circle cx="415.0" cy="440.4" r="2.65"/><circle cx="415.5" cy="439.3" r="2.65"/><circle cx="416.0" cy="441.0" r="2.65"/><circle cx="416.5" cy="443.5" r="2.65"/><circle cx="418.1" cy="440.3" r="2.65"/><circle cx="418.6" cy="441.7" r="2.65"/><circle cx="419.1" cy="441.2" r="2.65"/><circle cx="419.6" cy="440.4" r="2.65"/><circle cx="420.1" cy="436.3" r="2.65"/><circle cx="421.6" cy="434.4" r="2.65"/><circle cx="422.1" cy="429.6" r="2.65"/><circle cx="422.6" cy="425.5" r="2.65"/><circle cx="423.1" cy="428.4" r="2.65"/><circle cx="423.7" cy="432.3" r="2.65"/><circle cx="425.2" cy="435.2" r="2.65"/><circle cx="425.7" cy="434.8" r="2.65"/><circle cx="426.2" cy="437.0" r="2.65"/><circle cx="426.7" cy="434.2" r="2.65"/><circle cx="427.2" cy="433.2" r="2.65"/><circle cx="428.7" cy="433.9" r="2.65"/><circle cx="429.2" cy="432.6" r="2.65"/><circle cx="429.7" cy="431.6" r="2.65"/><circle cx="430.3" cy="426.9" r="2.65"/><circle cx="430.8" cy="429.1" r="2.65"/><circle cx="432.3" cy="428.0" r="2.65"/><circle cx="432.8" cy="431.1" r="2.65"/><circle cx="433.3" cy="429.1" r="2.65"/><circle cx="433.8" cy="432.6" r="2.65"/><circle cx="434.3" cy="432.9" r="2.65"/><circle cx="435.8" cy="433.4" r="2.65"/><circle cx="436.4" cy="434.9" r="2.65"/><circle cx="436.9" cy="438.4" r="2.65"/><circle cx="437.4" cy="436.9" r="2.65"/><circle cx="437.9" cy="436.7" r="2.65"/><circle cx="439.4" cy="440.6" r="2.65"/><circle cx="439.9" cy="440.6" r="2.65"/><circle cx="440.4" cy="440.2" r="2.65"/><circle cx="440.9" cy="436.9" r="2.65"/><circle cx="441.4" cy="437.1" r="2.65"/><circle cx="443.0" cy="437.0" r="2.65"/><circle cx="443.5" cy="433.6" r="2.65"/><circle cx="444.0" cy="432.0" r="2.65"/><circle cx="444.5" cy="433.5" r="2.65"/><circle cx="445.0" cy="433.5" r="2.65"/><circle cx="446.5" cy="421.4" r="2.65"/><circle cx="447.0" cy="421.5" r="2.65"/><circle cx="447.5" cy="422.4" r="2.65"/><circle cx="448.0" cy="423.4" r="2.65"/><circle cx="448.5" cy="425.9" r="2.65"/><circle cx="450.1" cy="431.8" r="2.65"/><circle cx="450.6" cy="432.3" r="2.65"/><circle cx="451.1" cy="430.4" r="2.65"/><circle cx="451.6" cy="430.6" r="2.65"/><circle cx="452.1" cy="428.0" r="2.65"/><circle cx="453.6" cy="424.6" r="2.65"/><circle cx="454.1" cy="421.3" r="2.65"/><circle cx="454.6" cy="422.2" r="2.65"/><circle cx="455.2" cy="420.2" r="2.65"/><circle cx="455.7" cy="417.3" r="2.65"/><circle cx="457.2" cy="414.1" r="2.65"/><circle cx="457.7" cy="413.1" r="2.65"/><circle cx="458.2" cy="409.3" r="2.65"/><circle cx="458.7" cy="407.6" r="2.65"/><circle cx="459.2" cy="405.6" r="2.65"/><circle cx="460.7" cy="405.2" r="2.65"/><circle cx="461.2" cy="403.1" r="2.65"/><circle cx="461.8" cy="402.0" r="2.65"/><circle cx="462.3" cy="400.9" r="2.65"/><circle cx="462.8" cy="400.8" r="2.65"/><circle cx="464.3" cy="402.8" r="2.65"/><circle cx="464.8" cy="403.3" r="2.65"/><circle cx="465.3" cy="406.3" r="2.65"/><circle cx="465.8" cy="404.0" r="2.65"/><circle cx="466.3" cy="407.1" r="2.65"/><circle cx="467.9" cy="407.6" r="2.65"/><circle cx="468.4" cy="407.0" r="2.65"/><circle cx="468.9" cy="404.3" r="2.65"/><circle cx="469.4" cy="404.2" r="2.65"/><circle cx="469.9" cy="407.4" r="2.65"/><circle cx="471.4" cy="408.6" r="2.65"/><circle cx="471.9" cy="406.8" r="2.65"/><circle cx="472.4" cy="406.1" r="2.65"/><circle cx="472.9" cy="402.5" r="2.65"/><circle cx="473.4" cy="400.6" r="2.65"/><circle cx="475.0" cy="395.0" r="2.65"/><circle cx="475.5" cy="396.2" r="2.65"/><circle cx="476.0" cy="393.7" r="2.65"/><circle cx="476.5" cy="390.7" r="2.65"/><circle cx="477.0" cy="389.1" r="2.65"/><circle cx="478.5" cy="387.1" r="2.65"/><circle cx="479.0" cy="385.6" r="2.65"/><circle cx="479.5" cy="381.1" r="2.65"/><circle cx="480.0" cy="383.1" r="2.65"/><circle cx="480.6" cy="379.2" r="2.65"/><circle cx="482.1" cy="372.4" r="2.65"/><circle cx="482.6" cy="373.6" r="2.65"/><circle cx="483.1" cy="371.8" r="2.65"/><circle cx="483.6" cy="368.3" r="2.65"/><circle cx="484.1" cy="369.8" r="2.65"/><circle cx="485.6" cy="367.9" r="2.65"/><circle cx="486.1" cy="368.0" r="2.65"/><circle cx="486.7" cy="366.5" r="2.65"/><circle cx="487.2" cy="371.0" r="2.65"/><circle cx="487.7" cy="366.9" r="2.65"/><circle cx="489.2" cy="377.2" r="2.65"/><circle cx="489.7" cy="375.9" r="2.65"/><circle cx="490.2" cy="376.2" r="2.65"/><circle cx="490.7" cy="380.5" r="2.65"/><circle cx="491.2" cy="386.7" r="2.65"/><circle cx="492.7" cy="393.0" r="2.65"/><circle cx="493.3" cy="395.6" r="2.65"/><circle cx="493.8" cy="393.0" r="2.65"/><circle cx="494.3" cy="390.5" r="2.65"/><circle cx="494.8" cy="384.5" r="2.65"/><circle cx="496.3" cy="380.1" r="2.65"/><circle cx="496.8" cy="377.2" r="2.65"/><circle cx="497.3" cy="376.2" r="2.65"/><circle cx="497.8" cy="378.4" r="2.65"/><circle cx="498.3" cy="380.3" r="2.65"/><circle cx="499.9" cy="379.5" r="2.65"/><circle cx="500.4" cy="381.0" r="2.65"/><circle cx="500.9" cy="380.8" r="2.65"/><circle cx="501.4" cy="381.6" r="2.65"/><circle cx="501.9" cy="385.9" r="2.65"/><circle cx="503.4" cy="385.2" r="2.65"/><circle cx="503.9" cy="382.9" r="2.65"/><circle cx="504.4" cy="383.3" r="2.65"/><circle cx="504.9" cy="374.6" r="2.65"/><circle cx="505.5" cy="372.1" r="2.65"/><circle cx="507.0" cy="372.1" r="2.65"/><circle cx="507.5" cy="364.7" r="2.65"/><circle cx="508.0" cy="367.0" r="2.65"/><circle cx="508.5" cy="362.4" r="2.65"/><circle cx="509.0" cy="369.0" r="2.65"/><circle cx="510.5" cy="373.9" r="2.65"/><circle cx="511.0" cy="388.6" r="2.65"/><circle cx="511.5" cy="384.4" r="2.65"/><circle cx="512.1" cy="383.3" r="2.65"/><circle cx="512.6" cy="379.5" r="2.65"/><circle cx="514.1" cy="387.7" r="2.65"/><circle cx="514.6" cy="386.2" r="2.65"/><circle cx="515.1" cy="388.3" r="2.65"/><circle cx="515.6" cy="389.0" r="2.65"/><circle cx="516.1" cy="383.3" r="2.65"/><circle cx="517.6" cy="378.8" r="2.65"/><circle cx="518.2" cy="379.4" r="2.65"/><circle cx="518.7" cy="376.0" r="2.65"/><circle cx="519.2" cy="380.0" r="2.65"/><circle cx="519.7" cy="378.5" r="2.65"/><circle cx="521.2" cy="373.7" r="2.65"/><circle cx="521.7" cy="377.4" r="2.65"/><circle cx="522.2" cy="377.6" r="2.65"/><circle cx="522.7" cy="379.1" r="2.65"/><circle cx="523.2" cy="381.9" r="2.65"/><circle cx="524.8" cy="387.4" r="2.65"/><circle cx="525.3" cy="393.7" r="2.65"/><circle cx="525.8" cy="390.8" r="2.65"/><circle cx="526.3" cy="390.8" r="2.65"/><circle cx="526.8" cy="386.4" r="2.65"/><circle cx="528.3" cy="380.6" r="2.65"/><circle cx="528.8" cy="378.5" r="2.65"/><circle cx="529.3" cy="380.2" r="2.65"/><circle cx="529.8" cy="380.9" r="2.65"/><circle cx="530.3" cy="386.2" r="2.65"/><circle cx="531.9" cy="393.9" r="2.65"/><circle cx="532.4" cy="397.0" r="2.65"/><circle cx="532.9" cy="399.3" r="2.65"/><circle cx="533.4" cy="399.9" r="2.65"/><circle cx="533.9" cy="397.8" r="2.65"/><circle cx="535.4" cy="394.1" r="2.65"/><circle cx="535.9" cy="392.8" r="2.65"/><circle cx="536.4" cy="394.7" r="2.65"/><circle cx="537.0" cy="393.6" r="2.65"/><circle cx="537.5" cy="389.5" r="2.65"/><circle cx="539.0" cy="387.2" r="2.65"/><circle cx="539.5" cy="390.4" r="2.65"/><circle cx="540.0" cy="388.3" r="2.65"/><circle cx="540.5" cy="386.3" r="2.65"/><circle cx="541.0" cy="388.3" r="2.65"/><circle cx="542.5" cy="384.4" r="2.65"/><circle cx="543.0" cy="383.9" r="2.65"/><circle cx="543.6" cy="383.1" r="2.65"/><circle cx="544.1" cy="381.0" r="2.65"/><circle cx="544.6" cy="384.4" r="2.65"/><circle cx="546.1" cy="378.9" r="2.65"/><circle cx="546.6" cy="378.9" r="2.65"/><circle cx="547.1" cy="377.8" r="2.65"/><circle cx="547.6" cy="379.8" r="2.65"/><circle cx="548.1" cy="377.8" r="2.65"/><circle cx="549.7" cy="375.3" r="2.65"/><circle cx="550.2" cy="371.6" r="2.65"/><circle cx="550.7" cy="372.9" r="2.65"/><circle cx="551.2" cy="369.6" r="2.65"/><circle cx="551.7" cy="370.9" r="2.65"/><circle cx="553.2" cy="366.4" r="2.65"/><circle cx="553.7" cy="364.0" r="2.65"/><circle cx="554.2" cy="365.5" r="2.65"/><circle cx="554.7" cy="363.3" r="2.65"/><circle cx="555.2" cy="362.1" r="2.65"/><circle cx="556.8" cy="359.2" r="2.65"/><circle cx="557.3" cy="358.0" r="2.65"/><circle cx="557.8" cy="360.1" r="2.65"/><circle cx="558.3" cy="360.5" r="2.65"/><circle cx="558.8" cy="355.2" r="2.65"/><circle cx="560.3" cy="358.5" r="2.65"/><circle cx="560.8" cy="357.3" r="2.65"/><circle cx="561.3" cy="357.5" r="2.65"/><circle cx="561.8" cy="355.9" r="2.65"/><circle cx="562.4" cy="351.3" r="2.65"/><circle cx="563.9" cy="350.9" r="2.65"/><circle cx="564.4" cy="357.4" r="2.65"/><circle cx="564.9" cy="356.0" r="2.65"/><circle cx="565.4" cy="352.3" r="2.65"/><circle cx="565.9" cy="355.8" r="2.65"/><circle cx="567.4" cy="352.6" r="2.65"/><circle cx="567.9" cy="347.2" r="2.65"/><circle cx="568.5" cy="344.2" r="2.65"/><circle cx="569.0" cy="341.1" r="2.65"/><circle cx="569.5" cy="340.2" r="2.65"/><circle cx="571.0" cy="329.9" r="2.65"/><circle cx="571.5" cy="326.4" r="2.65"/><circle cx="572.0" cy="324.5" r="2.65"/><circle cx="572.5" cy="322.6" r="2.65"/><circle cx="573.0" cy="319.4" r="2.65"/><circle cx="574.6" cy="325.7" r="2.65"/><circle cx="575.1" cy="325.6" r="2.65"/><circle cx="575.6" cy="323.0" r="2.65"/><circle cx="576.1" cy="323.0" r="2.65"/><circle cx="576.6" cy="322.7" r="2.65"/><circle cx="578.1" cy="318.5" r="2.65"/><circle cx="578.6" cy="314.5" r="2.65"/><circle cx="579.1" cy="315.6" r="2.65"/><circle cx="579.6" cy="322.3" r="2.65"/><circle cx="580.1" cy="317.6" r="2.65"/><circle cx="581.7" cy="311.4" r="2.65"/><circle cx="582.2" cy="314.1" r="2.65"/><circle cx="582.7" cy="316.3" r="2.65"/><circle cx="583.2" cy="319.7" r="2.65"/><circle cx="583.7" cy="320.3" r="2.65"/><circle cx="585.2" cy="331.4" r="2.65"/><circle cx="585.7" cy="329.0" r="2.65"/><circle cx="586.2" cy="329.0" r="2.65"/><circle cx="586.7" cy="331.4" r="2.65"/><circle cx="587.3" cy="333.1" r="2.65"/><circle cx="588.8" cy="334.2" r="2.65"/><circle cx="589.3" cy="335.3" r="2.65"/><circle cx="589.8" cy="334.8" r="2.65"/><circle cx="590.3" cy="337.2" r="2.65"/><circle cx="590.8" cy="335.5" r="2.65"/><circle cx="592.3" cy="340.5" r="2.65"/><circle cx="592.8" cy="337.9" r="2.65"/><circle cx="593.3" cy="338.8" r="2.65"/><circle cx="593.9" cy="344.3" r="2.65"/><circle cx="594.4" cy="337.0" r="2.65"/><circle cx="595.9" cy="329.7" r="2.65"/><circle cx="596.4" cy="328.7" r="2.65"/><circle cx="596.9" cy="326.1" r="2.65"/><circle cx="597.4" cy="325.1" r="2.65"/><circle cx="597.9" cy="328.7" r="2.65"/><circle cx="599.4" cy="319.7" r="2.65"/><circle cx="600.0" cy="325.4" r="2.65"/><circle cx="600.5" cy="328.7" r="2.65"/><circle cx="601.0" cy="327.4" r="2.65"/><circle cx="601.5" cy="327.8" r="2.65"/><circle cx="603.0" cy="332.7" r="2.65"/><circle cx="603.5" cy="335.3" r="2.65"/><circle cx="604.0" cy="330.9" r="2.65"/><circle cx="604.5" cy="333.9" r="2.65"/><circle cx="605.0" cy="334.6" r="2.65"/><circle cx="606.6" cy="334.2" r="2.65"/><circle cx="607.1" cy="329.7" r="2.65"/><circle cx="607.6" cy="327.6" r="2.65"/><circle cx="608.1" cy="324.8" r="2.65"/><circle cx="608.6" cy="325.3" r="2.65"/><circle cx="610.1" cy="322.6" r="2.65"/><circle cx="610.6" cy="322.5" r="2.65"/><circle cx="611.1" cy="325.1" r="2.65"/><circle cx="611.6" cy="326.6" r="2.65"/><circle cx="612.1" cy="325.4" r="2.65"/><circle cx="613.7" cy="334.6" r="2.65"/><circle cx="614.2" cy="330.2" r="2.65"/><circle cx="614.7" cy="321.1" r="2.65"/><circle cx="615.2" cy="323.0" r="2.65"/><circle cx="615.7" cy="318.6" r="2.65"/><circle cx="617.2" cy="319.4" r="2.65"/><circle cx="617.7" cy="320.5" r="2.65"/><circle cx="618.2" cy="326.1" r="2.65"/><circle cx="618.8" cy="332.0" r="2.65"/><circle cx="619.3" cy="332.8" r="2.65"/><circle cx="620.8" cy="328.7" r="2.65"/><circle cx="621.3" cy="334.5" r="2.65"/><circle cx="621.8" cy="333.6" r="2.65"/><circle cx="622.3" cy="339.3" r="2.65"/><circle cx="622.8" cy="342.0" r="2.65"/><circle cx="624.3" cy="342.8" r="2.65"/><circle cx="624.9" cy="340.1" r="2.65"/><circle cx="625.4" cy="343.1" r="2.65"/><circle cx="625.9" cy="337.1" r="2.65"/><circle cx="626.4" cy="338.2" r="2.65"/><circle cx="627.9" cy="329.5" r="2.65"/><circle cx="628.4" cy="325.5" r="2.65"/><circle cx="628.9" cy="323.7" r="2.65"/><circle cx="629.4" cy="323.1" r="2.65"/><circle cx="629.9" cy="323.7" r="2.65"/><circle cx="631.5" cy="319.6" r="2.65"/><circle cx="632.0" cy="321.1" r="2.65"/><circle cx="632.5" cy="323.7" r="2.65"/><circle cx="633.0" cy="329.2" r="2.65"/><circle cx="633.5" cy="329.2" r="2.65"/><circle cx="635.0" cy="326.9" r="2.65"/><circle cx="635.5" cy="326.1" r="2.65"/><circle cx="636.0" cy="327.5" r="2.65"/><circle cx="636.5" cy="324.5" r="2.65"/><circle cx="637.0" cy="323.8" r="2.65"/><circle cx="638.6" cy="321.1" r="2.65"/><circle cx="639.1" cy="323.1" r="2.65"/><circle cx="639.6" cy="325.5" r="2.65"/><circle cx="640.1" cy="327.4" r="2.65"/><circle cx="640.6" cy="324.5" r="2.65"/><circle cx="642.1" cy="327.0" r="2.65"/><circle cx="642.6" cy="330.8" r="2.65"/><circle cx="643.1" cy="337.0" r="2.65"/><circle cx="643.6" cy="332.6" r="2.65"/><circle cx="644.2" cy="327.4" r="2.65"/><circle cx="645.7" cy="316.6" r="2.65"/><circle cx="652.8" cy="348.0" r="2.65"/><circle cx="653.3" cy="342.4" r="2.65"/><circle cx="653.8" cy="338.3" r="2.65"/><circle cx="654.3" cy="332.9" r="2.65"/><circle cx="654.8" cy="331.8" r="2.65"/><circle cx="656.4" cy="342.5" r="2.65"/><circle cx="656.9" cy="345.1" r="2.65"/><circle cx="657.4" cy="347.5" r="2.65"/><circle cx="657.9" cy="350.9" r="2.65"/><circle cx="658.4" cy="353.7" r="2.65"/><circle cx="659.9" cy="356.9" r="2.65"/><circle cx="660.4" cy="352.5" r="2.65"/><circle cx="660.9" cy="351.2" r="2.65"/><circle cx="661.4" cy="355.6" r="2.65"/><circle cx="661.9" cy="354.5" r="2.65"/><circle cx="663.5" cy="352.0" r="2.65"/><circle cx="664.0" cy="354.2" r="2.65"/><circle cx="664.5" cy="358.7" r="2.65"/><circle cx="665.0" cy="362.4" r="2.65"/><circle cx="665.5" cy="365.3" r="2.65"/><circle cx="667.0" cy="368.1" r="2.65"/><circle cx="667.5" cy="376.4" r="2.65"/><circle cx="668.0" cy="378.6" r="2.65"/><circle cx="668.5" cy="376.9" r="2.65"/><circle cx="669.1" cy="373.9" r="2.65"/><circle cx="670.6" cy="371.2" r="2.65"/><circle cx="671.1" cy="374.8" r="2.65"/><circle cx="671.6" cy="375.9" r="2.65"/><circle cx="672.1" cy="374.5" r="2.65"/><circle cx="672.6" cy="375.3" r="2.65"/><circle cx="674.1" cy="372.5" r="2.65"/><circle cx="674.6" cy="369.0" r="2.65"/><circle cx="675.2" cy="372.0" r="2.65"/><circle cx="675.7" cy="370.5" r="2.65"/><circle cx="676.2" cy="373.4" r="2.65"/><circle cx="677.7" cy="373.1" r="2.65"/><circle cx="678.2" cy="374.6" r="2.65"/><circle cx="678.7" cy="375.1" r="2.65"/><circle cx="679.2" cy="370.8" r="2.65"/><circle cx="679.7" cy="365.8" r="2.65"/><circle cx="681.2" cy="360.0" r="2.65"/><circle cx="681.8" cy="362.7" r="2.65"/><circle cx="682.3" cy="363.9" r="2.65"/><circle cx="682.8" cy="363.4" r="2.65"/><circle cx="683.3" cy="366.0" r="2.65"/><circle cx="684.8" cy="365.3" r="2.65"/><circle cx="685.3" cy="363.5" r="2.65"/><circle cx="685.8" cy="362.2" r="2.65"/><circle cx="686.3" cy="362.5" r="2.65"/><circle cx="686.8" cy="366.9" r="2.65"/><circle cx="688.4" cy="374.2" r="2.65"/><circle cx="688.9" cy="374.2" r="2.65"/><circle cx="689.4" cy="376.3" r="2.65"/><circle cx="689.9" cy="374.6" r="2.65"/><circle cx="690.4" cy="370.7" r="2.65"/><circle cx="691.9" cy="366.1" r="2.65"/><circle cx="692.4" cy="368.3" r="2.65"/><circle cx="692.9" cy="366.6" r="2.65"/><circle cx="693.4" cy="367.7" r="2.65"/><circle cx="693.9" cy="365.8" r="2.65"/><circle cx="695.5" cy="368.2" r="2.65"/><circle cx="696.0" cy="369.6" r="2.65"/><circle cx="696.5" cy="360.9" r="2.65"/><circle cx="697.0" cy="350.4" r="2.65"/><circle cx="697.5" cy="346.5" r="2.65"/><circle cx="699.0" cy="349.2" r="2.65"/><circle cx="699.5" cy="347.4" r="2.65"/><circle cx="700.0" cy="350.8" r="2.65"/><circle cx="700.6" cy="353.0" r="2.65"/><circle cx="701.1" cy="350.4" r="2.65"/><circle cx="702.6" cy="355.1" r="2.65"/><circle cx="703.1" cy="352.4" r="2.65"/><circle cx="703.6" cy="352.2" r="2.65"/><circle cx="704.1" cy="352.4" r="2.65"/><circle cx="704.6" cy="351.7" r="2.65"/><circle cx="706.1" cy="356.2" r="2.65"/><circle cx="706.7" cy="356.4" r="2.65"/><circle cx="707.2" cy="360.0" r="2.65"/><circle cx="707.7" cy="359.6" r="2.65"/><circle cx="708.2" cy="358.2" r="2.65"/><circle cx="709.7" cy="344.9" r="2.65"/><circle cx="710.2" cy="339.8" r="2.65"/><circle cx="710.7" cy="339.9" r="2.65"/><circle cx="711.2" cy="337.7" r="2.65"/><circle cx="711.7" cy="341.7" r="2.65"/><circle cx="713.3" cy="340.0" r="2.65"/><circle cx="713.8" cy="343.2" r="2.65"/><circle cx="714.3" cy="343.8" r="2.65"/><circle cx="714.8" cy="345.3" r="2.65"/><circle cx="715.3" cy="345.4" r="2.65"/><circle cx="716.8" cy="351.0" r="2.65"/><circle cx="717.3" cy="354.1" r="2.65"/><circle cx="717.8" cy="357.2" r="2.65"/><circle cx="718.3" cy="356.0" r="2.65"/><circle cx="718.8" cy="359.5" r="2.65"/><circle cx="720.4" cy="359.2" r="2.65"/><circle cx="720.9" cy="356.4" r="2.65"/><circle cx="721.4" cy="354.8" r="2.65"/><circle cx="721.9" cy="353.3" r="2.65"/><circle cx="722.4" cy="351.4" r="2.65"/><circle cx="723.9" cy="355.7" r="2.65"/><circle cx="724.4" cy="353.8" r="2.65"/><circle cx="724.9" cy="353.8" r="2.65"/><circle cx="725.5" cy="355.9" r="2.65"/><circle cx="726.0" cy="355.7" r="2.65"/><circle cx="727.5" cy="350.9" r="2.65"/><circle cx="728.0" cy="354.3" r="2.65"/><circle cx="728.5" cy="355.3" r="2.65"/><circle cx="729.0" cy="356.3" r="2.65"/><circle cx="729.5" cy="357.9" r="2.65"/><circle cx="731.0" cy="362.0" r="2.65"/><circle cx="731.5" cy="365.5" r="2.65"/><circle cx="732.1" cy="362.1" r="2.65"/><circle cx="732.6" cy="359.0" r="2.65"/><circle cx="733.1" cy="358.6" r="2.65"/><circle cx="734.6" cy="353.0" r="2.65"/><circle cx="735.1" cy="351.0" r="2.65"/><circle cx="735.6" cy="349.6" r="2.65"/><circle cx="736.1" cy="350.9" r="2.65"/><circle cx="736.6" cy="348.6" r="2.65"/><circle cx="738.2" cy="341.4" r="2.65"/><circle cx="738.7" cy="334.8" r="2.65"/><circle cx="739.2" cy="331.8" r="2.65"/><circle cx="739.7" cy="326.6" r="2.65"/><circle cx="740.2" cy="326.2" r="2.65"/><circle cx="741.7" cy="323.4" r="2.65"/><circle cx="742.2" cy="319.2" r="2.65"/><circle cx="742.7" cy="324.2" r="2.65"/><circle cx="743.2" cy="328.6" r="2.65"/><circle cx="743.7" cy="329.2" r="2.65"/><circle cx="745.3" cy="327.4" r="2.65"/><circle cx="745.8" cy="332.7" r="2.65"/><circle cx="746.3" cy="329.1" r="2.65"/><circle cx="746.8" cy="327.6" r="2.65"/><circle cx="747.3" cy="328.0" r="2.65"/><circle cx="748.8" cy="330.6" r="2.65"/><circle cx="749.3" cy="333.3" r="2.65"/><circle cx="749.8" cy="334.8" r="2.65"/><circle cx="750.3" cy="333.4" r="2.65"/><circle cx="750.9" cy="330.6" r="2.65"/><circle cx="752.4" cy="333.4" r="2.65"/><circle cx="752.9" cy="333.3" r="2.65"/><circle cx="753.4" cy="335.3" r="2.65"/><circle cx="753.9" cy="333.2" r="2.65"/><circle cx="754.4" cy="335.7" r="2.65"/><circle cx="755.9" cy="332.7" r="2.65"/><circle cx="756.4" cy="330.0" r="2.65"/><circle cx="757.0" cy="330.2" r="2.65"/><circle cx="757.5" cy="326.0" r="2.65"/><circle cx="758.0" cy="323.7" r="2.65"/><circle cx="759.5" cy="342.2" r="2.65"/><circle cx="760.0" cy="343.5" r="2.65"/><circle cx="760.5" cy="340.9" r="2.65"/><circle cx="761.0" cy="334.0" r="2.65"/><circle cx="761.5" cy="332.6" r="2.65"/><circle cx="763.0" cy="312.3" r="2.65"/><circle cx="763.6" cy="310.2" r="2.65"/><circle cx="764.1" cy="301.6" r="2.65"/><circle cx="764.6" cy="294.4" r="2.65"/><circle cx="765.1" cy="298.2" r="2.65"/><circle cx="766.6" cy="298.6" r="2.65"/><circle cx="767.1" cy="299.5" r="2.65"/><circle cx="767.6" cy="300.5" r="2.65"/><circle cx="768.1" cy="306.6" r="2.65"/><circle cx="768.6" cy="308.8" r="2.65"/><circle cx="780.8" cy="342.0" r="2.65"/><circle cx="781.3" cy="343.9" r="2.65"/><circle cx="781.8" cy="339.2" r="2.65"/><circle cx="782.4" cy="339.2" r="2.65"/><circle cx="782.9" cy="333.4" r="2.65"/><circle cx="784.4" cy="321.5" r="2.65"/><circle cx="784.9" cy="318.2" r="2.65"/><circle cx="785.4" cy="320.6" r="2.65"/><circle cx="785.9" cy="327.6" r="2.65"/><circle cx="786.4" cy="338.4" r="2.65"/><circle cx="787.9" cy="334.9" r="2.65"/><circle cx="788.5" cy="331.3" r="2.65"/><circle cx="789.0" cy="326.7" r="2.65"/><circle cx="789.5" cy="327.2" r="2.65"/><circle cx="790.0" cy="324.9" r="2.65"/><circle cx="791.5" cy="324.9" r="2.65"/><circle cx="792.0" cy="320.8" r="2.65"/><circle cx="792.5" cy="319.0" r="2.65"/><circle cx="793.0" cy="316.5" r="2.65"/><circle cx="793.5" cy="313.5" r="2.65"/><circle cx="795.1" cy="313.3" r="2.65"/><circle cx="795.6" cy="312.6" r="2.65"/><circle cx="796.1" cy="316.0" r="2.65"/><circle cx="796.6" cy="315.7" r="2.65"/><circle cx="797.1" cy="313.2" r="2.65"/><circle cx="798.6" cy="312.8" r="2.65"/><circle cx="799.1" cy="316.8" r="2.65"/><circle cx="799.6" cy="310.7" r="2.65"/><circle cx="800.1" cy="309.2" r="2.65"/><circle cx="800.6" cy="310.1" r="2.65"/><circle cx="802.2" cy="307.4" r="2.65"/><circle cx="802.7" cy="309.0" r="2.65"/><circle cx="803.2" cy="312.5" r="2.65"/><circle cx="803.7" cy="315.9" r="2.65"/><circle cx="804.2" cy="309.9" r="2.65"/><circle cx="805.7" cy="315.8" r="2.65"/><circle cx="806.2" cy="317.4" r="2.65"/><circle cx="806.7" cy="318.2" r="2.65"/><circle cx="807.3" cy="318.8" r="2.65"/><circle cx="807.8" cy="319.4" r="2.65"/><circle cx="809.3" cy="322.0" r="2.65"/><circle cx="809.8" cy="318.6" r="2.65"/><circle cx="810.3" cy="318.7" r="2.65"/><circle cx="810.8" cy="318.9" r="2.65"/><circle cx="811.3" cy="319.1" r="2.65"/><circle cx="812.8" cy="318.2" r="2.65"/><circle cx="813.3" cy="320.9" r="2.65"/><circle cx="813.9" cy="318.6" r="2.65"/><circle cx="814.4" cy="318.4" r="2.65"/><circle cx="814.9" cy="317.5" r="2.65"/><circle cx="816.4" cy="313.9" r="2.65"/><circle cx="816.9" cy="313.6" r="2.65"/><circle cx="817.4" cy="312.6" r="2.65"/><circle cx="817.9" cy="311.3" r="2.65"/><circle cx="818.4" cy="305.1" r="2.65"/><circle cx="820.0" cy="291.9" r="2.65"/><circle cx="820.5" cy="293.1" r="2.65"/><circle cx="821.0" cy="292.4" r="2.65"/><circle cx="821.5" cy="286.1" r="2.65"/><circle cx="822.0" cy="298.0" r="2.65"/><circle cx="823.5" cy="296.2" r="2.65"/><circle cx="824.0" cy="293.0" r="2.65"/><circle cx="824.5" cy="293.8" r="2.65"/><circle cx="825.0" cy="290.5" r="2.65"/><circle cx="825.5" cy="287.2" r="2.65"/><circle cx="827.1" cy="288.0" r="2.65"/><circle cx="827.6" cy="279.1" r="2.65"/><circle cx="828.1" cy="277.7" r="2.65"/><circle cx="828.6" cy="279.5" r="2.65"/><circle cx="829.1" cy="277.0" r="2.65"/><circle cx="830.6" cy="285.8" r="2.65"/><circle cx="831.1" cy="289.2" r="2.65"/><circle cx="831.6" cy="293.9" r="2.65"/><circle cx="832.1" cy="290.6" r="2.65"/><circle cx="832.7" cy="292.5" r="2.65"/><circle cx="834.2" cy="289.6" r="2.65"/><circle cx="834.7" cy="286.8" r="2.65"/><circle cx="835.2" cy="281.4" r="2.65"/><circle cx="835.7" cy="282.9" r="2.65"/><circle cx="836.2" cy="279.8" r="2.65"/><circle cx="837.7" cy="272.7" r="2.65"/><circle cx="838.2" cy="273.6" r="2.65"/><circle cx="838.8" cy="272.3" r="2.65"/><circle cx="839.3" cy="269.4" r="2.65"/><circle cx="839.8" cy="269.3" r="2.65"/><circle cx="841.3" cy="270.2" r="2.65"/><circle cx="841.8" cy="270.2" r="2.65"/><circle cx="842.3" cy="269.4" r="2.65"/><circle cx="842.8" cy="265.7" r="2.65"/><circle cx="843.3" cy="265.0" r="2.65"/><circle cx="844.8" cy="260.2" r="2.65"/><circle cx="845.4" cy="268.2" r="2.65"/><circle cx="845.9" cy="269.7" r="2.65"/><circle cx="846.4" cy="267.2" r="2.65"/><circle cx="846.9" cy="271.4" r="2.65"/><circle cx="848.4" cy="273.5" r="2.65"/><circle cx="848.9" cy="276.2" r="2.65"/><circle cx="849.4" cy="273.2" r="2.65"/><circle cx="849.9" cy="270.7" r="2.65"/><circle cx="850.4" cy="268.7" r="2.65"/><circle cx="852.0" cy="266.8" r="2.65"/><circle cx="852.5" cy="264.0" r="2.65"/><circle cx="853.0" cy="271.0" r="2.65"/><circle cx="853.5" cy="270.4" r="2.65"/><circle cx="854.0" cy="275.0" r="2.65"/><circle cx="855.5" cy="279.0" r="2.65"/><circle cx="856.0" cy="283.1" r="2.65"/><circle cx="856.5" cy="281.2" r="2.65"/><circle cx="857.0" cy="282.3" r="2.65"/><circle cx="857.6" cy="276.0" r="2.65"/><circle cx="859.1" cy="275.5" r="2.65"/><circle cx="859.6" cy="270.0" r="2.65"/><circle cx="860.1" cy="265.3" r="2.65"/><circle cx="860.6" cy="269.8" r="2.65"/><circle cx="861.1" cy="279.7" r="2.65"/><circle cx="862.6" cy="277.5" r="2.65"/><circle cx="863.1" cy="282.8" r="2.65"/><circle cx="863.6" cy="280.3" r="2.65"/><circle cx="864.2" cy="287.0" r="2.65"/><circle cx="864.7" cy="277.7" r="2.65"/><circle cx="866.2" cy="270.0" r="2.65"/><circle cx="866.7" cy="267.1" r="2.65"/><circle cx="867.2" cy="276.5" r="2.65"/><circle cx="867.7" cy="273.1" r="2.65"/><circle cx="868.2" cy="278.3" r="2.65"/><circle cx="869.7" cy="285.0" r="2.65"/><circle cx="870.3" cy="285.8" r="2.65"/><circle cx="870.8" cy="285.6" r="2.65"/><circle cx="871.3" cy="284.4" r="2.65"/><circle cx="871.8" cy="278.6" r="2.65"/><circle cx="873.3" cy="272.6" r="2.65"/><circle cx="873.8" cy="267.3" r="2.65"/><circle cx="874.3" cy="265.8" r="2.65"/><circle cx="874.8" cy="262.7" r="2.65"/><circle cx="875.3" cy="262.6" r="2.65"/><circle cx="876.9" cy="265.5" r="2.65"/><circle cx="877.4" cy="265.9" r="2.65"/><circle cx="877.9" cy="267.3" r="2.65"/><circle cx="878.4" cy="267.3" r="2.65"/><circle cx="878.9" cy="265.7" r="2.65"/><circle cx="880.4" cy="263.7" r="2.65"/><circle cx="880.9" cy="254.9" r="2.65"/><circle cx="881.4" cy="252.2" r="2.65"/><circle cx="881.9" cy="252.3" r="2.65"/><circle cx="882.4" cy="249.5" r="2.65"/><circle cx="884.0" cy="259.6" r="2.65"/><circle cx="884.5" cy="250.4" r="2.65"/><circle cx="885.0" cy="253.3" r="2.65"/><circle cx="885.5" cy="254.1" r="2.65"/><circle cx="886.0" cy="242.1" r="2.65"/><circle cx="887.5" cy="250.4" r="2.65"/><circle cx="888.0" cy="250.5" r="2.65"/><circle cx="888.5" cy="250.5" r="2.65"/><circle cx="889.1" cy="241.0" r="2.65"/><circle cx="889.6" cy="235.8" r="2.65"/><circle cx="891.1" cy="236.4" r="2.65"/><circle cx="891.6" cy="234.8" r="2.65"/><circle cx="892.1" cy="227.0" r="2.65"/><circle cx="892.6" cy="219.4" r="2.65"/><circle cx="893.1" cy="225.7" r="2.65"/><circle cx="894.6" cy="224.6" r="2.65"/><circle cx="895.1" cy="225.0" r="2.65"/><circle cx="895.7" cy="218.7" r="2.65"/><circle cx="896.2" cy="214.4" r="2.65"/><circle cx="896.7" cy="212.1" r="2.65"/><circle cx="898.2" cy="211.1" r="2.65"/><circle cx="898.7" cy="215.5" r="2.65"/><circle cx="899.2" cy="213.2" r="2.65"/><circle cx="899.7" cy="205.8" r="2.65"/><circle cx="900.2" cy="208.1" r="2.65"/><circle cx="901.8" cy="193.7" r="2.65"/><circle cx="902.3" cy="191.4" r="2.65"/><circle cx="902.8" cy="196.3" r="2.65"/><circle cx="903.3" cy="195.9" r="2.65"/><circle cx="903.8" cy="194.6" r="2.65"/><circle cx="905.3" cy="188.8" r="2.65"/><circle cx="905.8" cy="187.5" r="2.65"/><circle cx="906.3" cy="185.3" r="2.65"/><circle cx="906.8" cy="185.8" r="2.65"/><circle cx="387.4" cy="412.1" r="2.65"/><circle cx="764.2" cy="295.0" r="2.65"/><circle cx="533.5" cy="399.5" r="2.65"/><circle cx="870.4" cy="290.4" r="2.65"/><circle cx="828.4" cy="276.4" r="2.65"/><circle cx="844.4" cy="261.2" r="2.65"/><circle cx="201.5" cy="497.5" r="2.65"/><circle cx="151.5" cy="506.5" r="2.65"/><circle cx="572.5" cy="317.5" r="2.65"/><circle cx="582.5" cy="313.5" r="2.65"/><circle cx="908.3" cy="174.3" r="2.65"/><circle cx="909.7" cy="161.5" r="2.65"/><circle cx="912.3" cy="157.2" r="2.65"/><circle cx="912.7" cy="143.1" r="2.65"/><circle cx="914.3" cy="146.3" r="2.65"/><circle cx="759.3" cy="345.3" r="2.65"/><circle cx="785.2" cy="319.5" r="2.65"/><circle cx="508.0" cy="364.0" r="2.65"/><circle cx="483.5" cy="368.0" r="2.65"/><circle cx="422.5" cy="425.0" r="2.65"/><circle cx="359.5" cy="434.7" r="2.65"/><circle cx="319.2" cy="465.2" r="2.65"/><circle cx="697.4" cy="346.9" r="2.65"/><circle cx="710.9" cy="339.8" r="2.65"/><circle cx="646.1" cy="330.3" r="2.65"/><circle cx="647.3" cy="314.2" r="2.65"/><circle cx="647.4" cy="343.8" r="2.65"/><circle cx="649.6" cy="390.4" r="2.65"/><circle cx="650.4" cy="372.3" r="2.65"/><circle cx="650.0" cy="358.0" r="2.65"/><circle cx="650.8" cy="361.2" r="2.65"/><circle cx="651.5" cy="356.0" r="2.65"/><circle cx="770.3" cy="321.4" r="2.65"/><circle cx="770.7" cy="316.6" r="2.65"/><circle cx="771.7" cy="324.3" r="2.65"/><circle cx="771.3" cy="346.3" r="2.65"/><circle cx="772.3" cy="366.5" r="2.65"/><circle cx="773.4" cy="394.3" r="2.65"/><circle cx="774.2" cy="383.3" r="2.65"/><circle cx="774.2" cy="371.3" r="2.65"/><circle cx="775.1" cy="357.5" r="2.65"/><circle cx="775.8" cy="361.0" r="2.65"/><circle cx="777.0" cy="363.2" r="2.65"/><circle cx="777.8" cy="358.0" r="2.65"/><circle cx="778.5" cy="362.0" r="2.65"/><circle cx="779.0" cy="366.5" r="2.65"/><circle cx="779.2" cy="360.1" r="2.65"/><circle cx="779.4" cy="349.2" r="2.65"/></g>
<path d="M120.8 501.3L121.3 501.6L122.9 502.4L123.4 502.6L123.9 502.8L124.4 503.0L124.9 503.1L126.4 503.6L126.9 503.8L127.4 503.7L127.9 503.5L128.5 503.4L130.0 502.9L130.5 502.8L131.0 502.6L131.5 502.4L132.0 502.3L133.5 502.0L134.0 501.9L134.6 501.9L135.1 501.8L135.6 501.8L137.1 501.7L137.6 501.6L138.1 501.6L138.6 501.5L139.1 501.5L140.6 501.2L141.2 501.1L141.7 501.0L142.2 500.9L142.7 500.8L144.2 500.4L144.7 500.1L145.2 499.8L145.7 499.5L146.2 499.2L147.8 498.2L148.3 497.9L148.8 497.6L149.3 497.4L149.8 497.2L151.3 496.5L151.8 496.3L152.3 496.1L152.8 495.9L153.4 495.7L154.9 495.1L155.4 494.8L155.9 494.6L156.4 494.4L156.9 494.2L158.4 493.6L158.9 493.4L159.4 493.2L160.0 493.0L160.5 492.6L162.0 491.4L162.5 491.0L163.0 490.6L163.5 490.2L164.0 489.8L165.5 488.7L166.1 488.5L166.6 488.2L167.1 488.0L167.6 487.7L169.1 487.0L169.6 486.8L170.1 486.9L170.6 487.0L171.1 487.1L172.7 487.4L173.2 487.6L173.7 487.8L174.2 488.0L174.7 488.2L176.2 488.9L176.7 488.8L177.2 488.5L177.7 488.1L178.2 487.8L179.8 486.7L180.3 486.1L180.8 485.4L181.3 484.7L181.8 484.0L183.3 481.9L183.8 481.2L184.3 480.6L184.9 480.0L185.4 479.4L186.9 477.6L187.4 477.3L187.9 477.1L188.4 476.9L188.9 476.7L190.4 477.0L190.9 477.3L191.5 477.6L192.0 477.9L192.5 478.2L194.0 479.2L194.5 479.5L195.0 479.8L195.5 480.2L196.0 480.5L197.6 481.5L198.1 481.0L198.6 480.6L199.1 480.1L199.6 479.7L201.1 478.4L201.6 478.0L202.1 477.7L202.6 477.3L203.1 476.9L204.7 475.7L205.2 475.6L205.7 475.8L206.2 476.1L206.7 476.4L208.2 477.4L208.7 478.5L209.2 479.5L209.7 480.5L210.3 481.5L211.8 485.3L212.3 486.9L212.8 488.4L213.3 489.7L213.8 490.9L215.3 494.5L215.8 495.6L216.4 496.4L216.9 497.0L217.4 497.6L218.9 499.4L219.4 499.2L219.9 498.9L220.4 498.6L220.9 498.2L222.5 496.8L223.0 495.9L223.5 495.1L224.0 494.3L224.5 493.5L226.0 491.0L226.5 490.5L227.0 490.0L227.5 489.5L228.0 489.0L229.6 487.4L230.1 487.0L230.6 487.1L231.1 487.2L231.6 487.3L233.1 487.6L233.6 487.7L234.1 487.8L234.6 487.9L235.2 488.0L236.7 487.7L237.2 487.6L237.7 487.5L238.2 487.4L238.7 487.3L240.2 486.9L240.7 486.8L241.2 486.6L241.8 486.5L242.3 486.3L243.8 485.9L244.3 485.7L244.8 485.6L245.3 485.7L245.8 486.1L247.3 487.1L247.9 487.5L248.4 487.9L248.9 488.2L249.4 488.6L250.9 489.4L251.4 489.6L251.9 489.9L252.4 490.1L252.9 490.3L254.5 491.0L255.0 490.6L255.5 490.2L256.0 489.7L256.5 489.3L258.0 488.0L258.5 487.1L259.0 486.2L259.5 485.3L260.0 484.4L261.6 481.7L262.1 480.9L262.6 480.2L263.1 479.5L263.6 478.8L265.1 476.7L265.6 476.0L266.1 475.4L266.7 475.2L267.2 474.9L268.7 474.2L269.2 473.9L269.7 473.6L270.2 473.6L270.7 473.8L272.2 474.3L272.8 474.5L273.3 474.7L273.8 474.9L274.3 475.1L275.8 475.5L276.3 475.7L276.8 475.8L277.3 476.0L277.8 476.1L279.4 476.4L279.9 476.2L280.4 476.0L280.9 475.7L281.4 475.5L282.9 474.9L283.4 474.7L283.9 474.5L284.4 474.4L284.9 474.3L286.5 474.1L287.0 474.0L287.5 473.9L288.0 473.8L288.5 473.7L290.0 473.5L290.5 473.5L291.0 473.6L291.5 473.6L292.1 473.7L293.6 473.8L294.1 473.8L294.6 473.9L295.1 473.9L295.6 474.0L297.1 474.4L297.6 474.5L298.2 474.7L298.7 474.9L299.2 475.1L300.7 475.6L301.2 475.7L301.7 475.9L302.2 476.1L302.7 476.4L304.3 477.1L304.8 477.4L305.3 477.6L305.8 477.9L306.3 478.1L307.8 478.9L308.3 479.0L308.8 479.1L309.3 479.2L309.8 479.3L311.4 479.0L311.9 478.6L312.4 478.3L312.9 478.0L313.4 477.7L314.9 476.7L315.4 476.4L315.9 476.0L316.4 475.7L317.0 475.5L318.5 474.7L319.0 474.5L319.5 474.2L320.0 474.0L320.5 473.7L322.0 473.0L322.5 472.7L323.1 472.5L323.6 472.2L324.1 472.0L325.6 471.2L326.1 470.9L326.6 470.7L327.1 470.4L327.6 470.2L329.1 469.3L329.7 468.8L330.2 468.2L330.7 467.6L331.2 467.1L332.7 465.3L333.2 464.8L333.7 464.2L334.2 463.6L334.7 463.1L336.3 461.9L336.8 461.5L337.3 461.2L337.8 460.8L338.3 460.4L339.8 459.2L340.3 458.9L340.8 458.4L341.3 457.9L341.8 457.4L343.4 455.9L343.9 455.4L344.4 454.9L344.9 454.4L345.4 453.9L346.9 452.1L347.4 451.4L347.9 450.7L348.5 450.0L349.0 449.3L350.5 447.4L351.0 447.0L351.5 446.7L352.0 446.4L352.5 446.1L354.0 445.1L354.6 444.7L355.1 444.6L355.6 444.5L356.1 444.5L357.6 444.2L358.1 444.1L358.6 444.0L359.1 443.9L359.6 443.7L361.2 443.2L361.7 443.0L362.2 442.8L362.7 442.6L363.2 442.4L364.7 439.8L365.2 439.0L365.7 438.1L366.2 437.3L366.7 436.4L368.3 434.1L368.8 433.3L369.3 432.5L369.8 431.8L370.3 431.0L371.8 429.0L372.3 428.7L372.8 428.5L373.4 428.2L373.9 428.0L375.4 427.7L375.9 427.7L376.4 427.7L376.9 427.7L377.4 427.7L378.9 428.4L379.4 428.7L380.0 429.0L380.5 429.4L381.0 429.7L382.5 430.3L383.0 430.0L383.5 429.8L384.0 429.5L384.5 429.2L386.1 428.3L386.6 428.1L387.1 427.8L387.6 427.6L388.1 427.4L389.6 426.8L390.1 426.7L390.6 426.5L391.1 426.3L391.6 426.5L393.2 428.0L393.7 428.6L394.2 429.1L394.7 429.9L395.2 430.7L396.7 434.8L397.2 436.7L397.7 438.6L398.2 440.3L398.8 441.3L400.3 444.3L400.8 445.3L401.3 446.3L401.8 447.0L402.3 447.7L403.8 449.8L404.3 449.8L404.9 449.4L405.4 449.0L405.9 448.7L407.4 447.6L407.9 446.7L408.4 445.7L408.9 444.7L409.4 443.7L410.9 440.7L411.5 439.8L412.0 439.3L412.5 438.8L413.0 438.3L414.5 436.8L415.0 436.3L415.5 436.1L416.0 435.9L416.5 435.7L418.1 435.1L418.6 434.9L419.1 434.8L419.6 434.6L420.1 434.4L421.6 433.8L422.1 433.6L422.6 433.4L423.1 433.2L423.7 433.0L425.2 432.3L425.7 432.1L426.2 431.9L426.7 431.7L427.2 431.4L428.7 430.7L429.2 430.4L429.7 430.2L430.3 429.9L430.8 429.7L432.3 429.7L432.8 429.9L433.3 430.0L433.8 430.2L434.3 430.4L435.8 430.8L436.4 430.9L436.9 431.0L437.4 431.1L437.9 431.2L439.4 431.5L439.9 431.0L440.4 430.6L440.9 430.1L441.4 429.6L443.0 428.2L443.5 427.4L444.0 426.4L444.5 425.4L445.0 424.4L446.5 421.5L447.0 420.4L447.5 419.4L448.0 418.4L448.5 417.3L450.1 414.3L450.6 413.6L451.1 413.0L451.6 412.3L452.1 411.6L453.6 409.6L454.1 409.2L454.6 409.0L455.2 408.7L455.7 408.4L457.2 407.7L457.7 407.5L458.2 407.5L458.7 407.5L459.2 407.4L460.7 407.4L461.2 407.4L461.8 407.3L462.3 407.3L462.8 406.9L464.3 404.9L464.8 404.3L465.3 403.7L465.8 403.3L466.3 402.9L467.9 401.6L468.4 401.2L468.9 400.8L469.4 400.4L469.9 399.9L471.4 398.7L471.9 398.3L472.4 397.9L472.9 397.5L473.4 397.2L475.0 396.0L475.5 395.6L476.0 395.3L476.5 394.9L477.0 394.5L478.5 394.1L479.0 393.9L479.5 393.8L480.0 393.6L480.6 393.5L482.1 393.0L482.6 392.9L483.1 392.8L483.6 392.6L484.1 392.5L485.6 392.4L486.1 392.3L486.7 392.3L487.2 392.3L487.7 392.2L489.2 392.1L489.7 392.1L490.2 392.1L490.7 392.0L491.2 391.8L492.7 390.8L493.3 390.5L493.8 390.2L494.3 389.8L494.8 389.5L496.3 388.5L496.8 388.1L497.3 387.8L497.8 387.6L498.3 387.3L499.9 386.6L500.4 386.3L500.9 386.1L501.4 385.8L501.9 385.6L503.4 385.3L503.9 385.2L504.4 385.2L504.9 385.1L505.5 385.0L507.0 384.8L507.5 384.7L508.0 384.6L508.5 384.6L509.0 384.5L510.5 384.2L511.0 384.2L511.5 384.1L512.1 384.0L512.6 383.9L514.1 383.7L514.6 383.6L515.1 383.4L515.6 383.1L516.1 382.8L517.6 382.0L518.2 381.7L518.7 381.4L519.2 381.1L519.7 380.8L521.2 379.9L521.7 379.7L522.2 379.5L522.7 379.3L523.2 379.1L524.8 378.4L525.3 378.2L525.8 378.0L526.3 377.8L526.8 377.6L528.3 376.6L528.8 376.2L529.3 375.9L529.8 375.5L530.3 375.2L531.9 374.1L532.4 373.7L532.9 373.3L533.4 373.0L533.9 372.6L535.4 371.4L535.9 371.0L536.4 370.7L537.0 370.3L537.5 369.9L539.0 369.4L539.5 369.3L540.0 369.2L540.5 369.2L541.0 369.1L542.5 369.3L543.0 369.5L543.6 369.8L544.1 370.0L544.6 370.3L546.1 371.0L546.6 371.1L547.1 371.2L547.6 371.3L548.1 371.4L549.7 370.8L550.2 370.3L550.7 369.8L551.2 369.3L551.7 368.4L553.2 363.9L553.7 362.2L554.2 360.5L554.7 358.9L555.2 357.6L556.8 353.6L557.3 352.5L557.8 351.7L558.3 350.8L558.8 350.0L560.3 347.7L560.8 347.2L561.3 346.7L561.8 346.2L562.4 345.6L563.9 344.8L564.4 344.7L564.9 344.5L565.4 344.4L565.9 344.3L567.4 343.4L567.9 342.7L568.5 342.1L569.0 341.4L569.5 340.7L571.0 338.3L571.5 337.5L572.0 336.7L572.5 335.8L573.0 335.0L574.6 333.0L575.1 332.4L575.6 331.7L576.1 331.0L576.6 330.5L578.1 330.5L578.6 330.5L579.1 330.5L579.6 330.7L580.1 331.4L581.7 333.5L582.2 334.3L582.7 335.4L583.2 336.4L583.7 337.4L585.2 340.4L585.7 341.5L586.2 342.3L586.7 342.9L587.3 343.4L588.8 345.2L589.3 345.8L589.8 345.8L590.3 345.4L590.8 345.0L592.3 343.3L592.8 342.3L593.3 341.3L593.9 340.3L594.4 339.3L595.9 336.2L596.4 335.2L596.9 334.2L597.4 333.2L597.9 332.2L599.4 329.5L600.0 328.9L600.5 328.3L601.0 327.7L601.5 327.1L603.0 326.1L603.5 325.9L604.0 325.7L604.5 325.5L605.0 325.8L606.6 326.7L607.1 327.0L607.6 327.3L608.1 327.5L608.6 327.6L610.1 327.8L610.6 327.8L611.1 327.9L611.6 328.0L612.1 328.0L613.7 328.0L614.2 328.0L614.7 328.0L615.2 328.0L615.7 328.0L617.2 328.8L617.7 329.1L618.2 329.4L618.8 329.7L619.3 330.0L620.8 331.4L621.3 332.0L621.8 332.5L622.3 333.1L622.8 333.7L624.3 335.2L624.9 335.4L625.4 335.7L625.9 335.9L626.4 336.2L627.9 336.1L628.4 335.8L628.9 335.5L629.4 335.3L629.9 335.0L631.5 334.2L632.0 333.9L632.5 333.6L633.0 333.3L633.5 332.9L635.0 332.0L635.5 332.0L636.0 331.9L636.5 331.9L637.0 331.9L638.6 331.8L639.1 331.9L639.6 332.2L640.1 332.6L640.6 333.0L642.1 334.2L642.6 335.2L643.1 336.2L643.6 337.2L644.2 338.1L645.7 339.6L646.2 340.0L646.7 340.5L647.2 340.9L647.7 341.3L649.2 342.6L649.7 343.1L650.3 343.4L650.8 343.6L651.3 343.8L652.8 344.3L653.3 344.5L653.8 344.7L654.3 344.9L654.8 345.1L656.4 345.9L656.9 346.3L657.4 346.6L657.9 347.0L658.4 347.4L659.9 348.4L660.4 348.8L660.9 349.1L661.4 349.5L661.9 349.9L663.5 351.3L664.0 351.8L664.5 352.4L665.0 353.0L665.5 353.5L667.0 355.3L667.5 355.8L668.0 356.4L668.5 357.0L669.1 357.5L670.6 359.3L671.1 359.9L671.6 360.4L672.1 361.0L672.6 361.6L674.1 363.3L674.6 363.6L675.2 364.0L675.7 364.4L676.2 364.7L677.7 365.8L678.2 366.1L678.7 366.5L679.2 366.7L679.7 366.8L681.2 367.0L681.8 367.1L682.3 367.2L682.8 367.2L683.3 367.3L684.8 367.2L685.3 367.1L685.8 366.9L686.3 366.8L686.8 366.7L688.4 366.3L688.9 366.2L689.4 366.1L689.9 365.9L690.4 365.7L691.9 365.1L692.4 364.9L692.9 364.7L693.4 364.5L693.9 364.3L695.5 363.7L696.0 363.5L696.5 363.3L697.0 363.0L697.5 362.8L699.0 362.0L699.5 361.8L700.0 361.5L700.6 361.2L701.1 361.0L702.6 360.2L703.1 360.0L703.6 359.7L704.1 359.4L704.6 359.2L706.1 358.4L706.7 358.2L707.2 357.9L707.7 357.6L708.2 357.4L709.7 356.6L710.2 356.4L710.7 356.1L711.2 355.8L711.7 355.5L713.3 354.6L713.8 354.3L714.3 354.0L714.8 353.7L715.3 353.4L716.8 352.5L717.3 352.2L717.8 351.9L718.3 351.4L718.8 350.8L720.4 349.0L720.9 348.4L721.4 347.9L721.9 347.3L722.4 346.8L723.9 345.7L724.4 345.4L724.9 345.1L725.5 344.7L726.0 344.4L727.5 344.4L728.0 344.6L728.5 344.7L729.0 344.9L729.5 345.1L731.0 345.7L731.5 345.9L732.1 346.1L732.6 346.0L733.1 345.9L734.6 345.7L735.1 345.6L735.6 345.5L736.1 345.4L736.6 345.0L738.2 342.1L738.7 341.1L739.2 340.2L739.7 339.2L740.2 338.3L741.7 336.5L742.2 336.0L742.7 335.6L743.2 335.1L743.7 334.7L745.3 334.1L745.8 334.2L746.3 334.3L746.8 334.4L747.3 334.5L748.8 335.2L749.3 335.7L749.8 336.1L750.3 336.6L750.9 337.0L752.4 338.4L752.9 338.9L753.4 338.9L753.9 338.3L754.4 337.6L755.9 335.6L756.4 334.9L757.0 334.3L757.5 333.6L758.0 332.9L759.5 331.0L760.0 330.4L760.5 329.8L761.0 329.2L761.5 328.5L763.0 326.6L763.6 326.4L764.1 327.1L764.6 327.8L765.1 328.5L766.6 330.5L767.1 331.2L767.6 331.9L768.1 332.8L768.6 333.7L770.2 336.4L770.7 337.3L771.2 338.2L771.7 338.9L772.2 339.5L773.7 341.3L774.2 341.8L774.7 342.4L775.2 342.1L775.7 341.7L777.3 340.3L777.8 339.9L778.3 339.1L778.8 337.8L779.3 336.6L780.8 332.7L781.3 331.4L781.8 330.1L782.4 329.5L782.9 328.9L784.4 327.0L784.9 326.4L785.4 325.8L785.9 325.2L786.4 324.6L787.9 323.7L788.5 323.4L789.0 323.2L789.5 322.9L790.0 322.7L791.5 321.9L792.0 321.6L792.5 321.4L793.0 321.0L793.5 320.5L795.1 319.2L795.6 318.8L796.1 318.4L796.6 318.0L797.1 317.5L798.6 316.4L799.1 316.1L799.6 315.9L800.1 315.6L800.6 315.3L802.2 314.5L802.7 314.3L803.2 314.1L803.7 314.2L804.2 314.3L805.7 314.7L806.2 314.8L806.7 314.9L807.3 315.0L807.8 315.1L809.3 314.9L809.8 314.6L810.3 314.2L810.8 313.8L811.3 313.4L812.8 312.3L813.3 311.9L813.9 311.0L814.4 309.8L814.9 308.7L816.4 305.2L816.9 303.9L817.4 302.5L817.9 301.0L818.4 299.6L820.0 295.2L820.5 294.1L821.0 293.5L821.5 292.8L822.0 292.1L823.5 290.1L824.0 289.7L824.5 289.4L825.0 289.2L825.5 289.0L827.1 288.3L827.6 288.1L828.1 287.9L828.6 287.7L829.1 287.5L830.6 286.8L831.1 286.6L831.6 286.4L832.1 286.2L832.7 286.0L834.2 285.4L834.7 285.1L835.2 284.7L835.7 284.1L836.2 283.5L837.7 281.9L838.2 281.3L838.8 280.7L839.3 280.2L839.8 279.6L841.3 277.9L841.8 277.4L842.3 276.8L842.8 276.2L843.3 275.7L844.8 274.0L845.4 273.5L845.9 273.0L846.4 272.6L846.9 272.2L848.4 271.0L848.9 270.6L849.4 270.2L849.9 269.8L850.4 269.4L852.0 268.4L852.5 268.2L853.0 267.9L853.5 267.7L854.0 267.4L855.5 266.6L856.0 266.4L856.5 266.1L857.0 265.9L857.6 265.8L859.1 265.7L859.6 265.6L860.1 265.6L860.6 265.5L861.1 265.5L862.6 265.3L863.1 265.1L863.6 264.8L864.2 264.5L864.7 264.1L866.2 263.2L866.7 262.9L867.2 262.6L867.7 262.1L868.2 261.5L869.7 259.6L870.3 258.9L870.8 258.3L871.3 257.6L871.8 257.0L873.3 254.8L873.8 254.1L874.3 253.3L874.8 252.5L875.3 251.8L876.9 249.5L877.4 248.8L877.9 248.1L878.4 247.4L878.9 246.8L880.4 244.7L880.9 244.0L881.4 243.3L881.9 242.5L882.4 241.7L884.0 239.2L884.5 238.3L885.0 237.5L885.5 236.7L886.0 235.8L887.5 233.2L888.0 232.3L888.5 231.4L889.1 230.6L889.6 229.8L891.1 227.5L891.6 226.7L892.1 225.9L892.6 225.2L893.1 224.4L894.6 222.1L895.1 221.3L895.7 220.6L896.2 219.8L896.7 219.0L898.2 215.9L898.7 214.9L899.2 213.9L899.7 212.9L900.2 211.8L901.8 208.8L902.3 207.7L902.8 206.5L903.3 205.3L903.8 204.1L905.3 200.6L905.8 199.4L906.3 198.2L906.8 197.0L907.3 195.9L908.9 193.6L909.4 192.9L909.9 192.2L910.4 191.5L910.9 190.8L912.4 188.9L912.9 188.6L913.4 188.3L913.9 188.0L914.5 187.6L915.0 196.6L915.5 196.2L916.0 186.3L916.5 185.9L917.0 185.5L917.5 185.1L918.0 184.7L918.5 193.8L919.0 193.4L919.5 183.3L920.0 182.3L920.6 181.3L921.1 180.3L921.6 179.3L922.1 187.7L922.6 186.7L923.1 176.2L923.6 175.2L924.1 174.1L924.6 172.6L925.1 171.0L925.6 179.0L926.1 177.5L926.6 166.5L927.2 165.0L927.7 163.5L928.2 162.0L928.7 160.6L929.2 169.4L929.7 168.8L930.2 158.6L930.7 157.9L931.2 157.3L931.7 156.6L932.2 155.9L932.7 164.8L933.3 164.3L933.8 154.6L934.3 154.5L934.8 154.3L935.3 154.2L935.8 154.1L936.3 163.4L936.8 163.3L937.3 153.6L937.8 153.5L938.3 153.4L938.8 153.0L939.4 152.4L939.9 161.3L940.4 160.7L940.9 150.6L941.4 150.0L941.9 149.4L942.4 148.8L942.9 148.1L943.4 157.0L943.9 156.4L944.4 146.6" fill="none" stroke="#0072B2" stroke-width="2.08" stroke-linejoin="round" stroke-linecap="square"/>
<g fill="#ff0000" fill-opacity="0.7" stroke="#ff0000" stroke-opacity="0.7" stroke-width="1.2"><circle cx="928.6" cy="39.4" r="2.05"/><circle cx="928.4" cy="42.2" r="2.05"/><circle cx="927.4" cy="47.4" r="2.05"/><circle cx="927.4" cy="64.4" r="2.05"/><circle cx="921.4" cy="74.2" r="2.05"/><circle cx="923.6" cy="86.4" r="2.05"/><circle cx="920.6" cy="87.4" r="2.05"/><circle cx="922.4" cy="93.6" r="2.05"/><circle cx="925.0" cy="94.6" r="2.05"/><circle cx="925.6" cy="95.4" r="2.05"/><circle cx="926.4" cy="99.4" r="2.05"/><circle cx="919.4" cy="98.4" r="2.05"/><circle cx="917.4" cy="102.0" r="2.05"/><circle cx="919.8" cy="102.6" r="2.05"/><circle cx="917.2" cy="105.6" r="2.05"/><circle cx="920.6" cy="106.4" r="2.05"/><circle cx="916.4" cy="120.2" r="2.05"/><circle cx="916.3" cy="128.5" r="2.05"/><circle cx="914.3" cy="146.3" r="2.05"/></g>
</g>
<g stroke="#000" stroke-width="1.11" fill="none"><path d="M90.50 542.5v4.86"/><path d="M183.50 542.5v4.86"/><path d="M275.50 542.5v4.86"/><path d="M369.50 542.5v4.86"/><path d="M461.50 542.5v4.86"/><path d="M554.50 542.5v4.86"/><path d="M647.50 542.5v4.86"/><path d="M740.50 542.5v4.86"/><path d="M832.50 542.5v4.86"/><path d="M926.50 542.5v4.86"/><path d="M79.5 504.50h-4.86"/><path d="M79.5 438.50h-4.86"/><path d="M79.5 372.50h-4.86"/><path d="M79.5 306.50h-4.86"/><path d="M79.5 240.50h-4.86"/><path d="M79.5 174.50h-4.86"/><path d="M79.5 108.50h-4.86"/><path d="M79.5 42.50h-4.86"/></g>
<rect x="79.5" y="15.5" width="906.0" height="527.0" fill="none" stroke="#000" stroke-width="1.11"/>
<g style="letter-spacing:-0.12px"><text x="89.85" y="562" text-anchor="middle">2021-08</text><text x="182.85" y="562" text-anchor="middle">2022-02</text><text x="274.85" y="562" text-anchor="middle">2022-08</text><text x="368.85" y="562" text-anchor="middle">2023-02</text><text x="460.85" y="562" text-anchor="middle">2023-08</text><text x="553.85" y="562" text-anchor="middle">2024-02</text><text x="646.85" y="562" text-anchor="middle">2024-08</text><text x="739.85" y="562" text-anchor="middle">2025-02</text><text x="831.85" y="562" text-anchor="middle">2025-08</text><text x="925.85" y="562" text-anchor="middle">2026-02</text></g>
<g style="letter-spacing:-0.45px"><text x="68.4" y="508.80" text-anchor="end">2000</text><text x="68.4" y="442.80" text-anchor="end">3000</text><text x="68.4" y="376.80" text-anchor="end">4000</text><text x="68.4" y="310.80" text-anchor="end">5000</text><text x="68.4" y="244.80" text-anchor="end">6000</text><text x="68.4" y="178.80" text-anchor="end">7000</text><text x="68.4" y="112.80" text-anchor="end">8000</text><text x="68.4" y="46.80" text-anchor="end">9000</text></g>
<text x="532.5" y="582" text-anchor="middle">ds</text>
<text transform="translate(24.7 279) rotate(-90)" text-anchor="middle">y</text>
</svg>
</body>
</html>
